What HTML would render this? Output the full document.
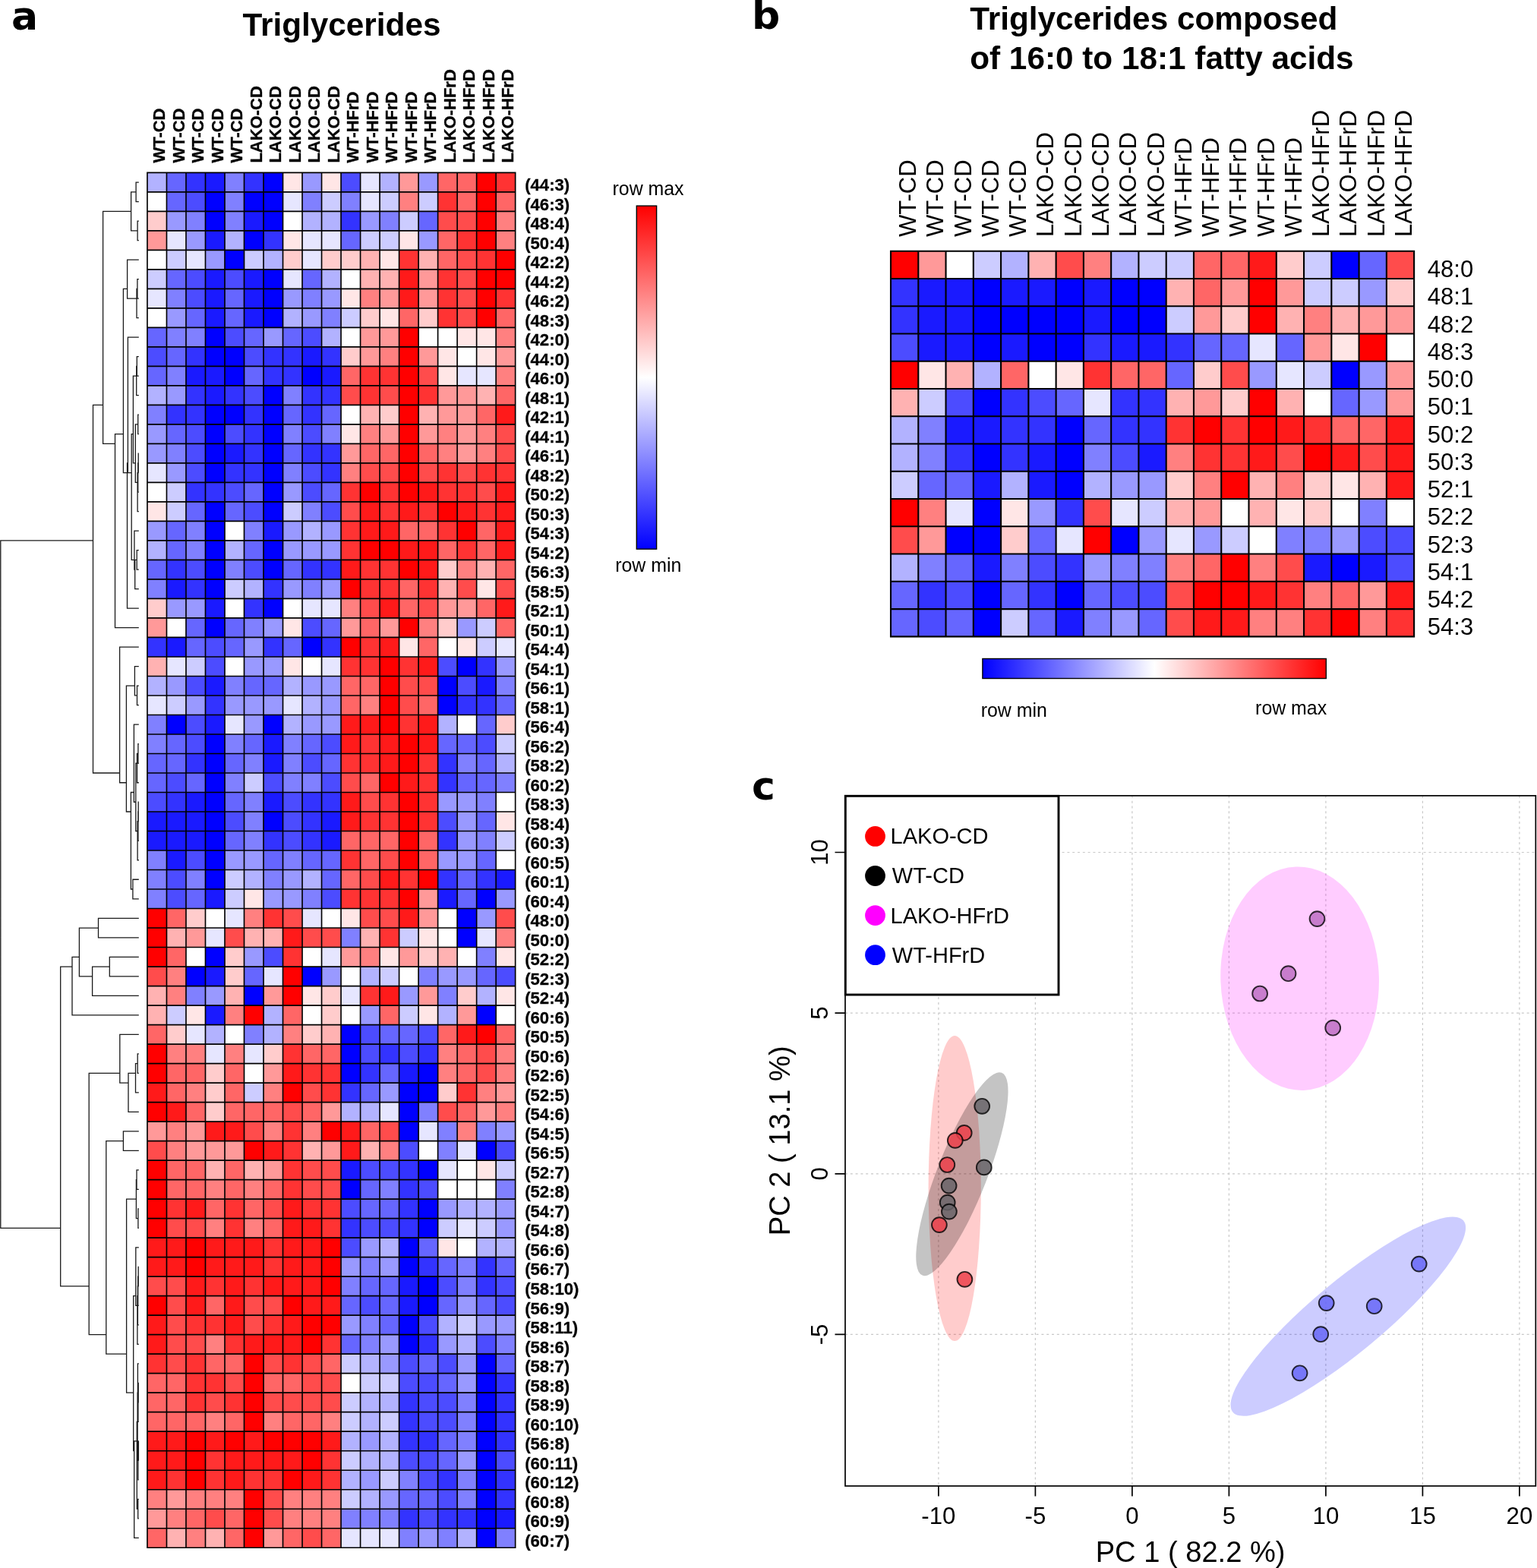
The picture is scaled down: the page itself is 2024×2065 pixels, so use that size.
<!DOCTYPE html>
<html lang="en"><head><meta charset="utf-8"><title>Triglycerides heatmaps and PCA</title>
<style>
html,body{margin:0;padding:0;background:#fff}
svg{display:block}
text{font-family:"Liberation Sans",Arial,Helvetica,sans-serif;fill:#000}
.pl{font-family:"DejaVu Sans","Liberation Sans",sans-serif;font-weight:bold;font-size:52px}
.b{font-weight:bold}
.ti{font-weight:bold;font-size:42.3px}
.ac{font-weight:bold;font-size:22px;stroke:#000;stroke-width:.35px}
.ar{font-weight:bold;font-size:22.1px;stroke:#000;stroke-width:.3px}
.lg{font-size:24.9px}
.bc{font-size:31px}
.br{font-size:31px}
.ct{font-size:31.2px}
.cl{font-size:38.1px}
.cg{font-size:29px}
.gr{stroke:#000;fill:none}
.dn{stroke:#1a1a1a;stroke-width:1.3;fill:none;stroke-linecap:butt;stroke-linejoin:miter}
.gd{stroke:#c8c8c8;stroke-width:1.2;stroke-dasharray:3 3.8;fill:none}
</style></head><body>
<svg width="2024" height="2065" viewBox="0 0 2024 2065">
<defs>
<linearGradient id="gv" x1="0" y1="0" x2="0" y2="1"><stop offset="0" stop-color="#f00"/><stop offset="0.5" stop-color="#fff"/><stop offset="1" stop-color="#00f"/></linearGradient>
<linearGradient id="gh" x1="0" y1="0" x2="1" y2="0"><stop offset="0" stop-color="#00f"/><stop offset="0.5" stop-color="#fff"/><stop offset="1" stop-color="#f00"/></linearGradient>
</defs>
<rect width="2024" height="2065" fill="#fff"/>
<text class="pl" x="15" y="38.5">a</text>
<text class="pl" x="990" y="38.2">b</text>
<text class="pl" x="990" y="1053.1">c</text>
<text class="ti" x="319.5" y="47.3">Triglycerides</text>
<text class="ti" x="1277.2" y="38.5">Triglycerides composed</text>
<text class="ti" x="1277.2" y="91.4">of 16:0 to 18:1 fatty acids</text>
<g id="heat-a" shape-rendering="crispEdges">
<rect x="193.95" y="227.3" width="25.51" height="25.51" fill="#b2b2ff"/>
<rect x="219.46" y="227.3" width="25.51" height="25.51" fill="#6666ff"/>
<rect x="244.97" y="227.3" width="25.51" height="25.51" fill="#3333ff"/>
<rect x="270.48" y="227.3" width="25.51" height="25.51" fill="#1a1aff"/>
<rect x="295.99" y="227.3" width="25.51" height="25.51" fill="#8080ff"/>
<rect x="321.5" y="227.3" width="25.51" height="25.51" fill="#3333ff"/>
<rect x="347.01" y="227.3" width="25.51" height="25.51" fill="#0000ff"/>
<rect x="372.52" y="227.3" width="25.51" height="25.51" fill="#ffe6e6"/>
<rect x="398.03" y="227.3" width="25.51" height="25.51" fill="#9999ff"/>
<rect x="423.54" y="227.3" width="25.51" height="25.51" fill="#ffe6e6"/>
<rect x="449.05" y="227.3" width="25.51" height="25.51" fill="#4c4cff"/>
<rect x="474.56" y="227.3" width="25.51" height="25.51" fill="#e6e6ff"/>
<rect x="500.07" y="227.3" width="25.51" height="25.51" fill="#b2b2ff"/>
<rect x="525.58" y="227.3" width="25.51" height="25.51" fill="#ff9999"/>
<rect x="551.09" y="227.3" width="25.51" height="25.51" fill="#9999ff"/>
<rect x="576.6" y="227.3" width="51.02" height="25.51" fill="#ff6666"/>
<rect x="627.62" y="227.3" width="25.51" height="25.51" fill="#ff0000"/>
<rect x="653.13" y="227.3" width="25.51" height="25.51" fill="#ff3333"/>
<rect x="193.95" y="252.81" width="25.51" height="25.51" fill="#ffffff"/>
<rect x="219.46" y="252.81" width="25.51" height="25.51" fill="#6666ff"/>
<rect x="244.97" y="252.81" width="25.51" height="25.51" fill="#4c4cff"/>
<rect x="270.48" y="252.81" width="25.51" height="25.51" fill="#0000ff"/>
<rect x="295.99" y="252.81" width="25.51" height="25.51" fill="#8080ff"/>
<rect x="321.5" y="252.81" width="51.02" height="25.51" fill="#0000ff"/>
<rect x="372.52" y="252.81" width="25.51" height="25.51" fill="#e6e6ff"/>
<rect x="398.03" y="252.81" width="25.51" height="25.51" fill="#8080ff"/>
<rect x="423.54" y="252.81" width="25.51" height="25.51" fill="#ccccff"/>
<rect x="449.05" y="252.81" width="25.51" height="25.51" fill="#8080ff"/>
<rect x="474.56" y="252.81" width="25.51" height="25.51" fill="#e6e6ff"/>
<rect x="500.07" y="252.81" width="25.51" height="25.51" fill="#ccccff"/>
<rect x="525.58" y="252.81" width="25.51" height="25.51" fill="#ff8080"/>
<rect x="551.09" y="252.81" width="25.51" height="25.51" fill="#ccccff"/>
<rect x="576.6" y="252.81" width="25.51" height="25.51" fill="#ff3333"/>
<rect x="602.11" y="252.81" width="25.51" height="25.51" fill="#ff6666"/>
<rect x="627.62" y="252.81" width="25.51" height="25.51" fill="#ff0000"/>
<rect x="653.13" y="252.81" width="25.51" height="25.51" fill="#ff6666"/>
<rect x="193.95" y="278.31" width="25.51" height="25.51" fill="#ffcccc"/>
<rect x="219.46" y="278.31" width="25.51" height="25.51" fill="#9999ff"/>
<rect x="244.97" y="278.31" width="25.51" height="25.51" fill="#8080ff"/>
<rect x="270.48" y="278.31" width="25.51" height="25.51" fill="#0000ff"/>
<rect x="295.99" y="278.31" width="25.51" height="25.51" fill="#8080ff"/>
<rect x="321.5" y="278.31" width="25.51" height="25.51" fill="#1a1aff"/>
<rect x="347.01" y="278.31" width="25.51" height="25.51" fill="#0000ff"/>
<rect x="372.52" y="278.31" width="25.51" height="25.51" fill="#ffffff"/>
<rect x="398.03" y="278.31" width="51.02" height="25.51" fill="#b2b2ff"/>
<rect x="449.05" y="278.31" width="25.51" height="25.51" fill="#3333ff"/>
<rect x="474.56" y="278.31" width="25.51" height="25.51" fill="#9999ff"/>
<rect x="500.07" y="278.31" width="25.51" height="25.51" fill="#8080ff"/>
<rect x="525.58" y="278.31" width="25.51" height="25.51" fill="#ccccff"/>
<rect x="551.09" y="278.31" width="25.51" height="25.51" fill="#6666ff"/>
<rect x="576.6" y="278.31" width="51.02" height="25.51" fill="#ff4c4c"/>
<rect x="627.62" y="278.31" width="25.51" height="25.51" fill="#ff0000"/>
<rect x="653.13" y="278.31" width="25.51" height="25.51" fill="#ff8080"/>
<rect x="193.95" y="303.82" width="25.51" height="25.51" fill="#ff9999"/>
<rect x="219.46" y="303.82" width="25.51" height="25.51" fill="#e6e6ff"/>
<rect x="244.97" y="303.82" width="25.51" height="25.51" fill="#9999ff"/>
<rect x="270.48" y="303.82" width="25.51" height="25.51" fill="#1a1aff"/>
<rect x="295.99" y="303.82" width="25.51" height="25.51" fill="#b2b2ff"/>
<rect x="321.5" y="303.82" width="25.51" height="25.51" fill="#0000ff"/>
<rect x="347.01" y="303.82" width="25.51" height="25.51" fill="#3333ff"/>
<rect x="372.52" y="303.82" width="25.51" height="25.51" fill="#ffe6e6"/>
<rect x="398.03" y="303.82" width="51.02" height="25.51" fill="#e6e6ff"/>
<rect x="449.05" y="303.82" width="25.51" height="25.51" fill="#6666ff"/>
<rect x="474.56" y="303.82" width="51.02" height="25.51" fill="#ccccff"/>
<rect x="525.58" y="303.82" width="25.51" height="25.51" fill="#ffe6e6"/>
<rect x="551.09" y="303.82" width="25.51" height="25.51" fill="#9999ff"/>
<rect x="576.6" y="303.82" width="25.51" height="25.51" fill="#ff6666"/>
<rect x="602.11" y="303.82" width="25.51" height="25.51" fill="#ff3333"/>
<rect x="627.62" y="303.82" width="25.51" height="25.51" fill="#ff0000"/>
<rect x="653.13" y="303.82" width="25.51" height="25.51" fill="#ff8080"/>
<rect x="193.95" y="329.32" width="25.51" height="25.51" fill="#ffffff"/>
<rect x="219.46" y="329.32" width="25.51" height="25.51" fill="#ccccff"/>
<rect x="244.97" y="329.32" width="25.51" height="25.51" fill="#e6e6ff"/>
<rect x="270.48" y="329.32" width="25.51" height="25.51" fill="#9999ff"/>
<rect x="295.99" y="329.32" width="25.51" height="25.51" fill="#0000ff"/>
<rect x="321.5" y="329.32" width="25.51" height="25.51" fill="#ccccff"/>
<rect x="347.01" y="329.32" width="25.51" height="25.51" fill="#b2b2ff"/>
<rect x="372.52" y="329.32" width="25.51" height="25.51" fill="#ffcccc"/>
<rect x="398.03" y="329.32" width="25.51" height="25.51" fill="#e6e6ff"/>
<rect x="423.54" y="329.32" width="51.02" height="25.51" fill="#ffcccc"/>
<rect x="474.56" y="329.32" width="25.51" height="25.51" fill="#ffb2b2"/>
<rect x="500.07" y="329.32" width="25.51" height="25.51" fill="#ffe6e6"/>
<rect x="525.58" y="329.32" width="25.51" height="25.51" fill="#ff3333"/>
<rect x="551.09" y="329.32" width="25.51" height="25.51" fill="#ffb2b2"/>
<rect x="576.6" y="329.32" width="25.51" height="25.51" fill="#ff6666"/>
<rect x="602.11" y="329.32" width="25.51" height="25.51" fill="#ff4c4c"/>
<rect x="627.62" y="329.32" width="25.51" height="25.51" fill="#ff3333"/>
<rect x="653.13" y="329.32" width="25.51" height="25.51" fill="#ff0000"/>
<rect x="193.95" y="354.83" width="25.51" height="25.51" fill="#ccccff"/>
<rect x="219.46" y="354.83" width="25.51" height="25.51" fill="#6666ff"/>
<rect x="244.97" y="354.83" width="25.51" height="25.51" fill="#4c4cff"/>
<rect x="270.48" y="354.83" width="25.51" height="25.51" fill="#1a1aff"/>
<rect x="295.99" y="354.83" width="25.51" height="25.51" fill="#4c4cff"/>
<rect x="321.5" y="354.83" width="25.51" height="25.51" fill="#1a1aff"/>
<rect x="347.01" y="354.83" width="25.51" height="25.51" fill="#0000ff"/>
<rect x="372.52" y="354.83" width="25.51" height="25.51" fill="#e6e6ff"/>
<rect x="398.03" y="354.83" width="25.51" height="25.51" fill="#6666ff"/>
<rect x="423.54" y="354.83" width="25.51" height="25.51" fill="#b2b2ff"/>
<rect x="449.05" y="354.83" width="25.51" height="25.51" fill="#ffffff"/>
<rect x="474.56" y="354.83" width="51.02" height="25.51" fill="#ffb2b2"/>
<rect x="525.58" y="354.83" width="25.51" height="25.51" fill="#ff1a1a"/>
<rect x="551.09" y="354.83" width="25.51" height="25.51" fill="#ff9999"/>
<rect x="576.6" y="354.83" width="25.51" height="25.51" fill="#ff3333"/>
<rect x="602.11" y="354.83" width="25.51" height="25.51" fill="#ff4c4c"/>
<rect x="627.62" y="354.83" width="51.02" height="25.51" fill="#ff0000"/>
<rect x="193.95" y="380.34" width="25.51" height="25.51" fill="#e6e6ff"/>
<rect x="219.46" y="380.34" width="25.51" height="25.51" fill="#8080ff"/>
<rect x="244.97" y="380.34" width="25.51" height="25.51" fill="#4c4cff"/>
<rect x="270.48" y="380.34" width="25.51" height="25.51" fill="#1a1aff"/>
<rect x="295.99" y="380.34" width="25.51" height="25.51" fill="#6666ff"/>
<rect x="321.5" y="380.34" width="25.51" height="25.51" fill="#1a1aff"/>
<rect x="347.01" y="380.34" width="25.51" height="25.51" fill="#0000ff"/>
<rect x="372.52" y="380.34" width="25.51" height="25.51" fill="#9999ff"/>
<rect x="398.03" y="380.34" width="25.51" height="25.51" fill="#8080ff"/>
<rect x="423.54" y="380.34" width="25.51" height="25.51" fill="#9999ff"/>
<rect x="449.05" y="380.34" width="25.51" height="25.51" fill="#ffe6e6"/>
<rect x="474.56" y="380.34" width="25.51" height="25.51" fill="#ff8080"/>
<rect x="500.07" y="380.34" width="25.51" height="25.51" fill="#ff9999"/>
<rect x="525.58" y="380.34" width="25.51" height="25.51" fill="#ff1a1a"/>
<rect x="551.09" y="380.34" width="25.51" height="25.51" fill="#ff9999"/>
<rect x="576.6" y="380.34" width="25.51" height="25.51" fill="#ff3333"/>
<rect x="602.11" y="380.34" width="25.51" height="25.51" fill="#ff4c4c"/>
<rect x="627.62" y="380.34" width="25.51" height="25.51" fill="#ff0000"/>
<rect x="653.13" y="380.34" width="25.51" height="25.51" fill="#ff3333"/>
<rect x="193.95" y="405.84" width="25.51" height="25.51" fill="#ffffff"/>
<rect x="219.46" y="405.84" width="25.51" height="25.51" fill="#9999ff"/>
<rect x="244.97" y="405.84" width="25.51" height="25.51" fill="#6666ff"/>
<rect x="270.48" y="405.84" width="25.51" height="25.51" fill="#1a1aff"/>
<rect x="295.99" y="405.84" width="25.51" height="25.51" fill="#6666ff"/>
<rect x="321.5" y="405.84" width="25.51" height="25.51" fill="#1a1aff"/>
<rect x="347.01" y="405.84" width="25.51" height="25.51" fill="#0000ff"/>
<rect x="372.52" y="405.84" width="25.51" height="25.51" fill="#b2b2ff"/>
<rect x="398.03" y="405.84" width="25.51" height="25.51" fill="#9999ff"/>
<rect x="423.54" y="405.84" width="25.51" height="25.51" fill="#8080ff"/>
<rect x="449.05" y="405.84" width="25.51" height="25.51" fill="#ccccff"/>
<rect x="474.56" y="405.84" width="25.51" height="25.51" fill="#ffcccc"/>
<rect x="500.07" y="405.84" width="25.51" height="25.51" fill="#ffe6e6"/>
<rect x="525.58" y="405.84" width="25.51" height="25.51" fill="#ff6666"/>
<rect x="551.09" y="405.84" width="25.51" height="25.51" fill="#ffcccc"/>
<rect x="576.6" y="405.84" width="25.51" height="25.51" fill="#ff3333"/>
<rect x="602.11" y="405.84" width="25.51" height="25.51" fill="#ff4c4c"/>
<rect x="627.62" y="405.84" width="25.51" height="25.51" fill="#ff0000"/>
<rect x="653.13" y="405.84" width="25.51" height="25.51" fill="#ff6666"/>
<rect x="193.95" y="431.35" width="25.51" height="25.51" fill="#6666ff"/>
<rect x="219.46" y="431.35" width="51.02" height="25.51" fill="#8080ff"/>
<rect x="270.48" y="431.35" width="25.51" height="25.51" fill="#0000ff"/>
<rect x="295.99" y="431.35" width="25.51" height="25.51" fill="#4c4cff"/>
<rect x="321.5" y="431.35" width="25.51" height="25.51" fill="#6666ff"/>
<rect x="347.01" y="431.35" width="25.51" height="25.51" fill="#9999ff"/>
<rect x="372.52" y="431.35" width="25.51" height="25.51" fill="#6666ff"/>
<rect x="398.03" y="431.35" width="25.51" height="25.51" fill="#4c4cff"/>
<rect x="423.54" y="431.35" width="25.51" height="25.51" fill="#b2b2ff"/>
<rect x="449.05" y="431.35" width="25.51" height="25.51" fill="#ffffff"/>
<rect x="474.56" y="431.35" width="51.02" height="25.51" fill="#ff9999"/>
<rect x="525.58" y="431.35" width="25.51" height="25.51" fill="#ff0000"/>
<rect x="551.09" y="431.35" width="51.02" height="25.51" fill="#ffffff"/>
<rect x="602.11" y="431.35" width="51.02" height="25.51" fill="#ffe6e6"/>
<rect x="653.13" y="431.35" width="25.51" height="25.51" fill="#ff8080"/>
<rect x="193.95" y="456.85" width="25.51" height="25.51" fill="#4c4cff"/>
<rect x="219.46" y="456.85" width="25.51" height="25.51" fill="#6666ff"/>
<rect x="244.97" y="456.85" width="25.51" height="25.51" fill="#3333ff"/>
<rect x="270.48" y="456.85" width="51.02" height="25.51" fill="#0000ff"/>
<rect x="321.5" y="456.85" width="25.51" height="25.51" fill="#4c4cff"/>
<rect x="347.01" y="456.85" width="51.02" height="25.51" fill="#3333ff"/>
<rect x="398.03" y="456.85" width="25.51" height="25.51" fill="#1a1aff"/>
<rect x="423.54" y="456.85" width="25.51" height="25.51" fill="#3333ff"/>
<rect x="449.05" y="456.85" width="25.51" height="25.51" fill="#ffcccc"/>
<rect x="474.56" y="456.85" width="25.51" height="25.51" fill="#ff9999"/>
<rect x="500.07" y="456.85" width="25.51" height="25.51" fill="#ff8080"/>
<rect x="525.58" y="456.85" width="25.51" height="25.51" fill="#ff0000"/>
<rect x="551.09" y="456.85" width="25.51" height="25.51" fill="#ff9999"/>
<rect x="576.6" y="456.85" width="25.51" height="25.51" fill="#ffe6e6"/>
<rect x="602.11" y="456.85" width="25.51" height="25.51" fill="#ffffff"/>
<rect x="627.62" y="456.85" width="25.51" height="25.51" fill="#ffe6e6"/>
<rect x="653.13" y="456.85" width="25.51" height="25.51" fill="#ff9999"/>
<rect x="193.95" y="482.36" width="25.51" height="25.51" fill="#6666ff"/>
<rect x="219.46" y="482.36" width="25.51" height="25.51" fill="#8080ff"/>
<rect x="244.97" y="482.36" width="51.02" height="25.51" fill="#1a1aff"/>
<rect x="295.99" y="482.36" width="25.51" height="25.51" fill="#0000ff"/>
<rect x="321.5" y="482.36" width="25.51" height="25.51" fill="#6666ff"/>
<rect x="347.01" y="482.36" width="51.02" height="25.51" fill="#3333ff"/>
<rect x="398.03" y="482.36" width="25.51" height="25.51" fill="#0000ff"/>
<rect x="423.54" y="482.36" width="25.51" height="25.51" fill="#1a1aff"/>
<rect x="449.05" y="482.36" width="25.51" height="25.51" fill="#ff6666"/>
<rect x="474.56" y="482.36" width="51.02" height="25.51" fill="#ff3333"/>
<rect x="525.58" y="482.36" width="25.51" height="25.51" fill="#ff0000"/>
<rect x="551.09" y="482.36" width="25.51" height="25.51" fill="#ff4c4c"/>
<rect x="576.6" y="482.36" width="25.51" height="25.51" fill="#ffe6e6"/>
<rect x="602.11" y="482.36" width="51.02" height="25.51" fill="#e6e6ff"/>
<rect x="653.13" y="482.36" width="25.51" height="25.51" fill="#ff8080"/>
<rect x="193.95" y="507.87" width="25.51" height="25.51" fill="#b2b2ff"/>
<rect x="219.46" y="507.87" width="25.51" height="25.51" fill="#9999ff"/>
<rect x="244.97" y="507.87" width="25.51" height="25.51" fill="#3333ff"/>
<rect x="270.48" y="507.87" width="25.51" height="25.51" fill="#1a1aff"/>
<rect x="295.99" y="507.87" width="25.51" height="25.51" fill="#3333ff"/>
<rect x="321.5" y="507.87" width="25.51" height="25.51" fill="#4c4cff"/>
<rect x="347.01" y="507.87" width="25.51" height="25.51" fill="#0000ff"/>
<rect x="372.52" y="507.87" width="25.51" height="25.51" fill="#8080ff"/>
<rect x="398.03" y="507.87" width="51.02" height="25.51" fill="#3333ff"/>
<rect x="449.05" y="507.87" width="25.51" height="25.51" fill="#ff4c4c"/>
<rect x="474.56" y="507.87" width="25.51" height="25.51" fill="#ff3333"/>
<rect x="500.07" y="507.87" width="25.51" height="25.51" fill="#ff4c4c"/>
<rect x="525.58" y="507.87" width="25.51" height="25.51" fill="#ff0000"/>
<rect x="551.09" y="507.87" width="25.51" height="25.51" fill="#ff3333"/>
<rect x="576.6" y="507.87" width="51.02" height="25.51" fill="#ff9999"/>
<rect x="627.62" y="507.87" width="25.51" height="25.51" fill="#ffb2b2"/>
<rect x="653.13" y="507.87" width="25.51" height="25.51" fill="#ff6666"/>
<rect x="193.95" y="533.37" width="25.51" height="25.51" fill="#8080ff"/>
<rect x="219.46" y="533.37" width="51.02" height="25.51" fill="#3333ff"/>
<rect x="270.48" y="533.37" width="51.02" height="25.51" fill="#0000ff"/>
<rect x="321.5" y="533.37" width="25.51" height="25.51" fill="#3333ff"/>
<rect x="347.01" y="533.37" width="25.51" height="25.51" fill="#0000ff"/>
<rect x="372.52" y="533.37" width="25.51" height="25.51" fill="#6666ff"/>
<rect x="398.03" y="533.37" width="25.51" height="25.51" fill="#3333ff"/>
<rect x="423.54" y="533.37" width="25.51" height="25.51" fill="#6666ff"/>
<rect x="449.05" y="533.37" width="25.51" height="25.51" fill="#ffffff"/>
<rect x="474.56" y="533.37" width="25.51" height="25.51" fill="#ffb2b2"/>
<rect x="500.07" y="533.37" width="25.51" height="25.51" fill="#ffcccc"/>
<rect x="525.58" y="533.37" width="25.51" height="25.51" fill="#ff0000"/>
<rect x="551.09" y="533.37" width="25.51" height="25.51" fill="#ffb2b2"/>
<rect x="576.6" y="533.37" width="51.02" height="25.51" fill="#ff9999"/>
<rect x="627.62" y="533.37" width="25.51" height="25.51" fill="#ff6666"/>
<rect x="653.13" y="533.37" width="25.51" height="25.51" fill="#ff1a1a"/>
<rect x="193.95" y="558.88" width="25.51" height="25.51" fill="#9999ff"/>
<rect x="219.46" y="558.88" width="25.51" height="25.51" fill="#6666ff"/>
<rect x="244.97" y="558.88" width="25.51" height="25.51" fill="#4c4cff"/>
<rect x="270.48" y="558.88" width="25.51" height="25.51" fill="#0000ff"/>
<rect x="295.99" y="558.88" width="25.51" height="25.51" fill="#4c4cff"/>
<rect x="321.5" y="558.88" width="25.51" height="25.51" fill="#3333ff"/>
<rect x="347.01" y="558.88" width="25.51" height="25.51" fill="#0000ff"/>
<rect x="372.52" y="558.88" width="25.51" height="25.51" fill="#8080ff"/>
<rect x="398.03" y="558.88" width="25.51" height="25.51" fill="#4c4cff"/>
<rect x="423.54" y="558.88" width="25.51" height="25.51" fill="#8080ff"/>
<rect x="449.05" y="558.88" width="25.51" height="25.51" fill="#ffe6e6"/>
<rect x="474.56" y="558.88" width="25.51" height="25.51" fill="#ff8080"/>
<rect x="500.07" y="558.88" width="25.51" height="25.51" fill="#ff9999"/>
<rect x="525.58" y="558.88" width="25.51" height="25.51" fill="#ff0000"/>
<rect x="551.09" y="558.88" width="25.51" height="25.51" fill="#ff9999"/>
<rect x="576.6" y="558.88" width="25.51" height="25.51" fill="#ff8080"/>
<rect x="602.11" y="558.88" width="25.51" height="25.51" fill="#ff9999"/>
<rect x="627.62" y="558.88" width="25.51" height="25.51" fill="#ff8080"/>
<rect x="653.13" y="558.88" width="25.51" height="25.51" fill="#ff4c4c"/>
<rect x="193.95" y="584.38" width="25.51" height="25.51" fill="#9999ff"/>
<rect x="219.46" y="584.38" width="25.51" height="25.51" fill="#8080ff"/>
<rect x="244.97" y="584.38" width="25.51" height="25.51" fill="#4c4cff"/>
<rect x="270.48" y="584.38" width="25.51" height="25.51" fill="#0000ff"/>
<rect x="295.99" y="584.38" width="25.51" height="25.51" fill="#1a1aff"/>
<rect x="321.5" y="584.38" width="25.51" height="25.51" fill="#3333ff"/>
<rect x="347.01" y="584.38" width="25.51" height="25.51" fill="#0000ff"/>
<rect x="372.52" y="584.38" width="25.51" height="25.51" fill="#6666ff"/>
<rect x="398.03" y="584.38" width="51.02" height="25.51" fill="#3333ff"/>
<rect x="449.05" y="584.38" width="25.51" height="25.51" fill="#ff9999"/>
<rect x="474.56" y="584.38" width="51.02" height="25.51" fill="#ff6666"/>
<rect x="525.58" y="584.38" width="25.51" height="25.51" fill="#ff0000"/>
<rect x="551.09" y="584.38" width="25.51" height="25.51" fill="#ff6666"/>
<rect x="576.6" y="584.38" width="25.51" height="25.51" fill="#ff8080"/>
<rect x="602.11" y="584.38" width="25.51" height="25.51" fill="#ff9999"/>
<rect x="627.62" y="584.38" width="25.51" height="25.51" fill="#ff8080"/>
<rect x="653.13" y="584.38" width="25.51" height="25.51" fill="#ff4c4c"/>
<rect x="193.95" y="609.89" width="25.51" height="25.51" fill="#e6e6ff"/>
<rect x="219.46" y="609.89" width="25.51" height="25.51" fill="#9999ff"/>
<rect x="244.97" y="609.89" width="25.51" height="25.51" fill="#4c4cff"/>
<rect x="270.48" y="609.89" width="25.51" height="25.51" fill="#0000ff"/>
<rect x="295.99" y="609.89" width="51.02" height="25.51" fill="#3333ff"/>
<rect x="347.01" y="609.89" width="25.51" height="25.51" fill="#0000ff"/>
<rect x="372.52" y="609.89" width="25.51" height="25.51" fill="#8080ff"/>
<rect x="398.03" y="609.89" width="25.51" height="25.51" fill="#4c4cff"/>
<rect x="423.54" y="609.89" width="25.51" height="25.51" fill="#3333ff"/>
<rect x="449.05" y="609.89" width="25.51" height="25.51" fill="#ff8080"/>
<rect x="474.56" y="609.89" width="51.02" height="25.51" fill="#ff4c4c"/>
<rect x="525.58" y="609.89" width="25.51" height="25.51" fill="#ff0000"/>
<rect x="551.09" y="609.89" width="25.51" height="25.51" fill="#ff4c4c"/>
<rect x="576.6" y="609.89" width="25.51" height="25.51" fill="#ff3333"/>
<rect x="602.11" y="609.89" width="25.51" height="25.51" fill="#ff4c4c"/>
<rect x="627.62" y="609.89" width="51.02" height="25.51" fill="#ff3333"/>
<rect x="193.95" y="635.4" width="25.51" height="25.51" fill="#ffffff"/>
<rect x="219.46" y="635.4" width="25.51" height="25.51" fill="#ccccff"/>
<rect x="244.97" y="635.4" width="51.02" height="25.51" fill="#3333ff"/>
<rect x="295.99" y="635.4" width="25.51" height="25.51" fill="#4c4cff"/>
<rect x="321.5" y="635.4" width="25.51" height="25.51" fill="#6666ff"/>
<rect x="347.01" y="635.4" width="25.51" height="25.51" fill="#0000ff"/>
<rect x="372.52" y="635.4" width="25.51" height="25.51" fill="#9999ff"/>
<rect x="398.03" y="635.4" width="25.51" height="25.51" fill="#4c4cff"/>
<rect x="423.54" y="635.4" width="25.51" height="25.51" fill="#6666ff"/>
<rect x="449.05" y="635.4" width="25.51" height="25.51" fill="#ff3333"/>
<rect x="474.56" y="635.4" width="25.51" height="25.51" fill="#ff0000"/>
<rect x="500.07" y="635.4" width="25.51" height="25.51" fill="#ff3333"/>
<rect x="525.58" y="635.4" width="25.51" height="25.51" fill="#ff0000"/>
<rect x="551.09" y="635.4" width="25.51" height="25.51" fill="#ff1a1a"/>
<rect x="576.6" y="635.4" width="51.02" height="25.51" fill="#ff3333"/>
<rect x="627.62" y="635.4" width="25.51" height="25.51" fill="#ff4c4c"/>
<rect x="653.13" y="635.4" width="25.51" height="25.51" fill="#ff1a1a"/>
<rect x="193.95" y="660.9" width="25.51" height="25.51" fill="#ffe6e6"/>
<rect x="219.46" y="660.9" width="25.51" height="25.51" fill="#ccccff"/>
<rect x="244.97" y="660.9" width="25.51" height="25.51" fill="#6666ff"/>
<rect x="270.48" y="660.9" width="25.51" height="25.51" fill="#0000ff"/>
<rect x="295.99" y="660.9" width="25.51" height="25.51" fill="#6666ff"/>
<rect x="321.5" y="660.9" width="25.51" height="25.51" fill="#4c4cff"/>
<rect x="347.01" y="660.9" width="25.51" height="25.51" fill="#0000ff"/>
<rect x="372.52" y="660.9" width="25.51" height="25.51" fill="#ccccff"/>
<rect x="398.03" y="660.9" width="25.51" height="25.51" fill="#8080ff"/>
<rect x="423.54" y="660.9" width="25.51" height="25.51" fill="#4c4cff"/>
<rect x="449.05" y="660.9" width="25.51" height="25.51" fill="#ff4c4c"/>
<rect x="474.56" y="660.9" width="25.51" height="25.51" fill="#ff1a1a"/>
<rect x="500.07" y="660.9" width="25.51" height="25.51" fill="#ff3333"/>
<rect x="525.58" y="660.9" width="25.51" height="25.51" fill="#ff1a1a"/>
<rect x="551.09" y="660.9" width="25.51" height="25.51" fill="#ff3333"/>
<rect x="576.6" y="660.9" width="25.51" height="25.51" fill="#ff0000"/>
<rect x="602.11" y="660.9" width="25.51" height="25.51" fill="#ff1a1a"/>
<rect x="627.62" y="660.9" width="25.51" height="25.51" fill="#ff3333"/>
<rect x="653.13" y="660.9" width="25.51" height="25.51" fill="#ff1a1a"/>
<rect x="193.95" y="686.41" width="25.51" height="25.51" fill="#9999ff"/>
<rect x="219.46" y="686.41" width="25.51" height="25.51" fill="#6666ff"/>
<rect x="244.97" y="686.41" width="25.51" height="25.51" fill="#8080ff"/>
<rect x="270.48" y="686.41" width="25.51" height="25.51" fill="#0000ff"/>
<rect x="295.99" y="686.41" width="25.51" height="25.51" fill="#ffffff"/>
<rect x="321.5" y="686.41" width="25.51" height="25.51" fill="#8080ff"/>
<rect x="347.01" y="686.41" width="25.51" height="25.51" fill="#1a1aff"/>
<rect x="372.52" y="686.41" width="25.51" height="25.51" fill="#9999ff"/>
<rect x="398.03" y="686.41" width="25.51" height="25.51" fill="#b2b2ff"/>
<rect x="423.54" y="686.41" width="25.51" height="25.51" fill="#9999ff"/>
<rect x="449.05" y="686.41" width="25.51" height="25.51" fill="#ff3333"/>
<rect x="474.56" y="686.41" width="51.02" height="25.51" fill="#ff1a1a"/>
<rect x="525.58" y="686.41" width="51.02" height="25.51" fill="#ff6666"/>
<rect x="576.6" y="686.41" width="25.51" height="25.51" fill="#ff3333"/>
<rect x="602.11" y="686.41" width="25.51" height="25.51" fill="#ff0000"/>
<rect x="627.62" y="686.41" width="25.51" height="25.51" fill="#ff6666"/>
<rect x="653.13" y="686.41" width="25.51" height="25.51" fill="#ff1a1a"/>
<rect x="193.95" y="711.91" width="25.51" height="25.51" fill="#b2b2ff"/>
<rect x="219.46" y="711.91" width="25.51" height="25.51" fill="#6666ff"/>
<rect x="244.97" y="711.91" width="25.51" height="25.51" fill="#8080ff"/>
<rect x="270.48" y="711.91" width="25.51" height="25.51" fill="#0000ff"/>
<rect x="295.99" y="711.91" width="25.51" height="25.51" fill="#b2b2ff"/>
<rect x="321.5" y="711.91" width="25.51" height="25.51" fill="#6666ff"/>
<rect x="347.01" y="711.91" width="25.51" height="25.51" fill="#0000ff"/>
<rect x="372.52" y="711.91" width="76.53" height="25.51" fill="#9999ff"/>
<rect x="449.05" y="711.91" width="25.51" height="25.51" fill="#ff3333"/>
<rect x="474.56" y="711.91" width="51.02" height="25.51" fill="#ff0000"/>
<rect x="525.58" y="711.91" width="51.02" height="25.51" fill="#ff1a1a"/>
<rect x="576.6" y="711.91" width="25.51" height="25.51" fill="#ff6666"/>
<rect x="602.11" y="711.91" width="25.51" height="25.51" fill="#ff3333"/>
<rect x="627.62" y="711.91" width="25.51" height="25.51" fill="#ff6666"/>
<rect x="653.13" y="711.91" width="25.51" height="25.51" fill="#ff1a1a"/>
<rect x="193.95" y="737.42" width="25.51" height="25.51" fill="#6666ff"/>
<rect x="219.46" y="737.42" width="25.51" height="25.51" fill="#3333ff"/>
<rect x="244.97" y="737.42" width="25.51" height="25.51" fill="#4c4cff"/>
<rect x="270.48" y="737.42" width="25.51" height="25.51" fill="#0000ff"/>
<rect x="295.99" y="737.42" width="25.51" height="25.51" fill="#8080ff"/>
<rect x="321.5" y="737.42" width="25.51" height="25.51" fill="#4c4cff"/>
<rect x="347.01" y="737.42" width="25.51" height="25.51" fill="#0000ff"/>
<rect x="372.52" y="737.42" width="25.51" height="25.51" fill="#6666ff"/>
<rect x="398.03" y="737.42" width="51.02" height="25.51" fill="#3333ff"/>
<rect x="449.05" y="737.42" width="25.51" height="25.51" fill="#ff1a1a"/>
<rect x="474.56" y="737.42" width="51.02" height="25.51" fill="#ff3333"/>
<rect x="525.58" y="737.42" width="25.51" height="25.51" fill="#ff0000"/>
<rect x="551.09" y="737.42" width="25.51" height="25.51" fill="#ff1a1a"/>
<rect x="576.6" y="737.42" width="25.51" height="25.51" fill="#ffcccc"/>
<rect x="602.11" y="737.42" width="25.51" height="25.51" fill="#ff8080"/>
<rect x="627.62" y="737.42" width="25.51" height="25.51" fill="#ffb2b2"/>
<rect x="653.13" y="737.42" width="25.51" height="25.51" fill="#ff6666"/>
<rect x="193.95" y="762.93" width="25.51" height="25.51" fill="#8080ff"/>
<rect x="219.46" y="762.93" width="25.51" height="25.51" fill="#1a1aff"/>
<rect x="244.97" y="762.93" width="25.51" height="25.51" fill="#3333ff"/>
<rect x="270.48" y="762.93" width="25.51" height="25.51" fill="#0000ff"/>
<rect x="295.99" y="762.93" width="25.51" height="25.51" fill="#ccccff"/>
<rect x="321.5" y="762.93" width="25.51" height="25.51" fill="#b2b2ff"/>
<rect x="347.01" y="762.93" width="25.51" height="25.51" fill="#3333ff"/>
<rect x="372.52" y="762.93" width="25.51" height="25.51" fill="#9999ff"/>
<rect x="398.03" y="762.93" width="25.51" height="25.51" fill="#8080ff"/>
<rect x="423.54" y="762.93" width="25.51" height="25.51" fill="#9999ff"/>
<rect x="449.05" y="762.93" width="25.51" height="25.51" fill="#ff0000"/>
<rect x="474.56" y="762.93" width="51.02" height="25.51" fill="#ff3333"/>
<rect x="525.58" y="762.93" width="25.51" height="25.51" fill="#ff6666"/>
<rect x="551.09" y="762.93" width="25.51" height="25.51" fill="#ff3333"/>
<rect x="576.6" y="762.93" width="25.51" height="25.51" fill="#ffb2b2"/>
<rect x="602.11" y="762.93" width="25.51" height="25.51" fill="#ff4c4c"/>
<rect x="627.62" y="762.93" width="25.51" height="25.51" fill="#ffe6e6"/>
<rect x="653.13" y="762.93" width="25.51" height="25.51" fill="#ff4c4c"/>
<rect x="193.95" y="788.43" width="25.51" height="25.51" fill="#ffcccc"/>
<rect x="219.46" y="788.43" width="51.02" height="25.51" fill="#9999ff"/>
<rect x="270.48" y="788.43" width="25.51" height="25.51" fill="#1a1aff"/>
<rect x="295.99" y="788.43" width="25.51" height="25.51" fill="#ffffff"/>
<rect x="321.5" y="788.43" width="25.51" height="25.51" fill="#3333ff"/>
<rect x="347.01" y="788.43" width="25.51" height="25.51" fill="#0000ff"/>
<rect x="372.52" y="788.43" width="25.51" height="25.51" fill="#ffffff"/>
<rect x="398.03" y="788.43" width="51.02" height="25.51" fill="#e6e6ff"/>
<rect x="449.05" y="788.43" width="25.51" height="25.51" fill="#ff8080"/>
<rect x="474.56" y="788.43" width="25.51" height="25.51" fill="#ff4c4c"/>
<rect x="500.07" y="788.43" width="25.51" height="25.51" fill="#ff1a1a"/>
<rect x="525.58" y="788.43" width="25.51" height="25.51" fill="#ff6666"/>
<rect x="551.09" y="788.43" width="25.51" height="25.51" fill="#ff4c4c"/>
<rect x="576.6" y="788.43" width="51.02" height="25.51" fill="#ff9999"/>
<rect x="627.62" y="788.43" width="25.51" height="25.51" fill="#ff6666"/>
<rect x="653.13" y="788.43" width="25.51" height="25.51" fill="#ff1a1a"/>
<rect x="193.95" y="813.94" width="25.51" height="25.51" fill="#ff9999"/>
<rect x="219.46" y="813.94" width="25.51" height="25.51" fill="#ffffff"/>
<rect x="244.97" y="813.94" width="25.51" height="25.51" fill="#6666ff"/>
<rect x="270.48" y="813.94" width="25.51" height="25.51" fill="#0000ff"/>
<rect x="295.99" y="813.94" width="25.51" height="25.51" fill="#6666ff"/>
<rect x="321.5" y="813.94" width="25.51" height="25.51" fill="#8080ff"/>
<rect x="347.01" y="813.94" width="25.51" height="25.51" fill="#9999ff"/>
<rect x="372.52" y="813.94" width="25.51" height="25.51" fill="#ffe6e6"/>
<rect x="398.03" y="813.94" width="25.51" height="25.51" fill="#4c4cff"/>
<rect x="423.54" y="813.94" width="25.51" height="25.51" fill="#6666ff"/>
<rect x="449.05" y="813.94" width="25.51" height="25.51" fill="#ff9999"/>
<rect x="474.56" y="813.94" width="25.51" height="25.51" fill="#ff6666"/>
<rect x="500.07" y="813.94" width="25.51" height="25.51" fill="#ff9999"/>
<rect x="525.58" y="813.94" width="25.51" height="25.51" fill="#ff0000"/>
<rect x="551.09" y="813.94" width="25.51" height="25.51" fill="#ff8080"/>
<rect x="576.6" y="813.94" width="25.51" height="25.51" fill="#ffcccc"/>
<rect x="602.11" y="813.94" width="25.51" height="25.51" fill="#9999ff"/>
<rect x="627.62" y="813.94" width="25.51" height="25.51" fill="#ccccff"/>
<rect x="653.13" y="813.94" width="25.51" height="25.51" fill="#ff6666"/>
<rect x="193.95" y="839.44" width="25.51" height="25.51" fill="#3333ff"/>
<rect x="219.46" y="839.44" width="25.51" height="25.51" fill="#1a1aff"/>
<rect x="244.97" y="839.44" width="25.51" height="25.51" fill="#6666ff"/>
<rect x="270.48" y="839.44" width="25.51" height="25.51" fill="#4c4cff"/>
<rect x="295.99" y="839.44" width="25.51" height="25.51" fill="#6666ff"/>
<rect x="321.5" y="839.44" width="25.51" height="25.51" fill="#9999ff"/>
<rect x="347.01" y="839.44" width="25.51" height="25.51" fill="#3333ff"/>
<rect x="372.52" y="839.44" width="25.51" height="25.51" fill="#6666ff"/>
<rect x="398.03" y="839.44" width="25.51" height="25.51" fill="#0000ff"/>
<rect x="423.54" y="839.44" width="25.51" height="25.51" fill="#3333ff"/>
<rect x="449.05" y="839.44" width="25.51" height="25.51" fill="#ff0000"/>
<rect x="474.56" y="839.44" width="25.51" height="25.51" fill="#ff3333"/>
<rect x="500.07" y="839.44" width="25.51" height="25.51" fill="#ff1a1a"/>
<rect x="525.58" y="839.44" width="25.51" height="25.51" fill="#ffe6e6"/>
<rect x="551.09" y="839.44" width="25.51" height="25.51" fill="#ff6666"/>
<rect x="576.6" y="839.44" width="25.51" height="25.51" fill="#ffffff"/>
<rect x="602.11" y="839.44" width="25.51" height="25.51" fill="#ffe6e6"/>
<rect x="627.62" y="839.44" width="25.51" height="25.51" fill="#ccccff"/>
<rect x="653.13" y="839.44" width="25.51" height="25.51" fill="#e6e6ff"/>
<rect x="193.95" y="864.95" width="25.51" height="25.51" fill="#ffb2b2"/>
<rect x="219.46" y="864.95" width="25.51" height="25.51" fill="#e6e6ff"/>
<rect x="244.97" y="864.95" width="25.51" height="25.51" fill="#ccccff"/>
<rect x="270.48" y="864.95" width="25.51" height="25.51" fill="#4c4cff"/>
<rect x="295.99" y="864.95" width="25.51" height="25.51" fill="#ffffff"/>
<rect x="321.5" y="864.95" width="51.02" height="25.51" fill="#9999ff"/>
<rect x="372.52" y="864.95" width="25.51" height="25.51" fill="#ffe6e6"/>
<rect x="398.03" y="864.95" width="25.51" height="25.51" fill="#ffffff"/>
<rect x="423.54" y="864.95" width="25.51" height="25.51" fill="#e6e6ff"/>
<rect x="449.05" y="864.95" width="51.02" height="25.51" fill="#ff3333"/>
<rect x="500.07" y="864.95" width="25.51" height="25.51" fill="#ff0000"/>
<rect x="525.58" y="864.95" width="25.51" height="25.51" fill="#ff3333"/>
<rect x="551.09" y="864.95" width="25.51" height="25.51" fill="#ff1a1a"/>
<rect x="576.6" y="864.95" width="25.51" height="25.51" fill="#4c4cff"/>
<rect x="602.11" y="864.95" width="25.51" height="25.51" fill="#0000ff"/>
<rect x="627.62" y="864.95" width="25.51" height="25.51" fill="#3333ff"/>
<rect x="653.13" y="864.95" width="25.51" height="25.51" fill="#9999ff"/>
<rect x="193.95" y="890.46" width="25.51" height="25.51" fill="#b2b2ff"/>
<rect x="219.46" y="890.46" width="25.51" height="25.51" fill="#9999ff"/>
<rect x="244.97" y="890.46" width="25.51" height="25.51" fill="#4c4cff"/>
<rect x="270.48" y="890.46" width="25.51" height="25.51" fill="#1a1aff"/>
<rect x="295.99" y="890.46" width="25.51" height="25.51" fill="#8080ff"/>
<rect x="321.5" y="890.46" width="51.02" height="25.51" fill="#6666ff"/>
<rect x="372.52" y="890.46" width="25.51" height="25.51" fill="#b2b2ff"/>
<rect x="398.03" y="890.46" width="51.02" height="25.51" fill="#9999ff"/>
<rect x="449.05" y="890.46" width="51.02" height="25.51" fill="#ff6666"/>
<rect x="500.07" y="890.46" width="25.51" height="25.51" fill="#ff0000"/>
<rect x="525.58" y="890.46" width="51.02" height="25.51" fill="#ff4c4c"/>
<rect x="576.6" y="890.46" width="25.51" height="25.51" fill="#0000ff"/>
<rect x="602.11" y="890.46" width="25.51" height="25.51" fill="#4c4cff"/>
<rect x="627.62" y="890.46" width="25.51" height="25.51" fill="#1a1aff"/>
<rect x="653.13" y="890.46" width="25.51" height="25.51" fill="#8080ff"/>
<rect x="193.95" y="915.96" width="25.51" height="25.51" fill="#e6e6ff"/>
<rect x="219.46" y="915.96" width="25.51" height="25.51" fill="#ccccff"/>
<rect x="244.97" y="915.96" width="25.51" height="25.51" fill="#9999ff"/>
<rect x="270.48" y="915.96" width="25.51" height="25.51" fill="#3333ff"/>
<rect x="295.99" y="915.96" width="76.53" height="25.51" fill="#9999ff"/>
<rect x="372.52" y="915.96" width="25.51" height="25.51" fill="#e6e6ff"/>
<rect x="398.03" y="915.96" width="25.51" height="25.51" fill="#b2b2ff"/>
<rect x="423.54" y="915.96" width="25.51" height="25.51" fill="#9999ff"/>
<rect x="449.05" y="915.96" width="25.51" height="25.51" fill="#ff6666"/>
<rect x="474.56" y="915.96" width="25.51" height="25.51" fill="#ff8080"/>
<rect x="500.07" y="915.96" width="25.51" height="25.51" fill="#ff0000"/>
<rect x="525.58" y="915.96" width="25.51" height="25.51" fill="#ff4c4c"/>
<rect x="551.09" y="915.96" width="25.51" height="25.51" fill="#ff6666"/>
<rect x="576.6" y="915.96" width="25.51" height="25.51" fill="#0000ff"/>
<rect x="602.11" y="915.96" width="51.02" height="25.51" fill="#3333ff"/>
<rect x="653.13" y="915.96" width="25.51" height="25.51" fill="#6666ff"/>
<rect x="193.95" y="941.47" width="25.51" height="25.51" fill="#8080ff"/>
<rect x="219.46" y="941.47" width="25.51" height="25.51" fill="#0000ff"/>
<rect x="244.97" y="941.47" width="25.51" height="25.51" fill="#4c4cff"/>
<rect x="270.48" y="941.47" width="25.51" height="25.51" fill="#1a1aff"/>
<rect x="295.99" y="941.47" width="25.51" height="25.51" fill="#e6e6ff"/>
<rect x="321.5" y="941.47" width="25.51" height="25.51" fill="#9999ff"/>
<rect x="347.01" y="941.47" width="25.51" height="25.51" fill="#0000ff"/>
<rect x="372.52" y="941.47" width="25.51" height="25.51" fill="#b2b2ff"/>
<rect x="398.03" y="941.47" width="51.02" height="25.51" fill="#9999ff"/>
<rect x="449.05" y="941.47" width="51.02" height="25.51" fill="#ff1a1a"/>
<rect x="500.07" y="941.47" width="25.51" height="25.51" fill="#ff0000"/>
<rect x="525.58" y="941.47" width="25.51" height="25.51" fill="#ff3333"/>
<rect x="551.09" y="941.47" width="25.51" height="25.51" fill="#ff1a1a"/>
<rect x="576.6" y="941.47" width="25.51" height="25.51" fill="#b2b2ff"/>
<rect x="602.11" y="941.47" width="25.51" height="25.51" fill="#ffffff"/>
<rect x="627.62" y="941.47" width="25.51" height="25.51" fill="#6666ff"/>
<rect x="653.13" y="941.47" width="25.51" height="25.51" fill="#ffcccc"/>
<rect x="193.95" y="966.97" width="25.51" height="25.51" fill="#8080ff"/>
<rect x="219.46" y="966.97" width="25.51" height="25.51" fill="#6666ff"/>
<rect x="244.97" y="966.97" width="25.51" height="25.51" fill="#4c4cff"/>
<rect x="270.48" y="966.97" width="25.51" height="25.51" fill="#0000ff"/>
<rect x="295.99" y="966.97" width="25.51" height="25.51" fill="#8080ff"/>
<rect x="321.5" y="966.97" width="25.51" height="25.51" fill="#6666ff"/>
<rect x="347.01" y="966.97" width="25.51" height="25.51" fill="#1a1aff"/>
<rect x="372.52" y="966.97" width="25.51" height="25.51" fill="#8080ff"/>
<rect x="398.03" y="966.97" width="25.51" height="25.51" fill="#6666ff"/>
<rect x="423.54" y="966.97" width="25.51" height="25.51" fill="#4c4cff"/>
<rect x="449.05" y="966.97" width="25.51" height="25.51" fill="#ff1a1a"/>
<rect x="474.56" y="966.97" width="25.51" height="25.51" fill="#ff3333"/>
<rect x="500.07" y="966.97" width="25.51" height="25.51" fill="#ff1a1a"/>
<rect x="525.58" y="966.97" width="25.51" height="25.51" fill="#ff0000"/>
<rect x="551.09" y="966.97" width="25.51" height="25.51" fill="#ff1a1a"/>
<rect x="576.6" y="966.97" width="51.02" height="25.51" fill="#6666ff"/>
<rect x="627.62" y="966.97" width="25.51" height="25.51" fill="#4c4cff"/>
<rect x="653.13" y="966.97" width="25.51" height="25.51" fill="#ccccff"/>
<rect x="193.95" y="992.48" width="51.02" height="25.51" fill="#6666ff"/>
<rect x="244.97" y="992.48" width="25.51" height="25.51" fill="#3333ff"/>
<rect x="270.48" y="992.48" width="25.51" height="25.51" fill="#0000ff"/>
<rect x="295.99" y="992.48" width="25.51" height="25.51" fill="#6666ff"/>
<rect x="321.5" y="992.48" width="25.51" height="25.51" fill="#8080ff"/>
<rect x="347.01" y="992.48" width="25.51" height="25.51" fill="#1a1aff"/>
<rect x="372.52" y="992.48" width="25.51" height="25.51" fill="#8080ff"/>
<rect x="398.03" y="992.48" width="25.51" height="25.51" fill="#4c4cff"/>
<rect x="423.54" y="992.48" width="25.51" height="25.51" fill="#6666ff"/>
<rect x="449.05" y="992.48" width="51.02" height="25.51" fill="#ff3333"/>
<rect x="500.07" y="992.48" width="25.51" height="25.51" fill="#ff1a1a"/>
<rect x="525.58" y="992.48" width="25.51" height="25.51" fill="#ff0000"/>
<rect x="551.09" y="992.48" width="25.51" height="25.51" fill="#ff3333"/>
<rect x="576.6" y="992.48" width="25.51" height="25.51" fill="#3333ff"/>
<rect x="602.11" y="992.48" width="25.51" height="25.51" fill="#8080ff"/>
<rect x="627.62" y="992.48" width="25.51" height="25.51" fill="#6666ff"/>
<rect x="653.13" y="992.48" width="25.51" height="25.51" fill="#b2b2ff"/>
<rect x="193.95" y="1017.99" width="25.51" height="25.51" fill="#6666ff"/>
<rect x="219.46" y="1017.99" width="25.51" height="25.51" fill="#4c4cff"/>
<rect x="244.97" y="1017.99" width="25.51" height="25.51" fill="#6666ff"/>
<rect x="270.48" y="1017.99" width="25.51" height="25.51" fill="#0000ff"/>
<rect x="295.99" y="1017.99" width="25.51" height="25.51" fill="#8080ff"/>
<rect x="321.5" y="1017.99" width="25.51" height="25.51" fill="#ccccff"/>
<rect x="347.01" y="1017.99" width="25.51" height="25.51" fill="#4c4cff"/>
<rect x="372.52" y="1017.99" width="51.02" height="25.51" fill="#8080ff"/>
<rect x="423.54" y="1017.99" width="25.51" height="25.51" fill="#4c4cff"/>
<rect x="449.05" y="1017.99" width="25.51" height="25.51" fill="#ff4c4c"/>
<rect x="474.56" y="1017.99" width="25.51" height="25.51" fill="#ff6666"/>
<rect x="500.07" y="1017.99" width="25.51" height="25.51" fill="#ff0000"/>
<rect x="525.58" y="1017.99" width="25.51" height="25.51" fill="#ff1a1a"/>
<rect x="551.09" y="1017.99" width="25.51" height="25.51" fill="#ff3333"/>
<rect x="576.6" y="1017.99" width="25.51" height="25.51" fill="#3333ff"/>
<rect x="602.11" y="1017.99" width="51.02" height="25.51" fill="#6666ff"/>
<rect x="653.13" y="1017.99" width="25.51" height="25.51" fill="#8080ff"/>
<rect x="193.95" y="1043.49" width="25.51" height="25.51" fill="#4c4cff"/>
<rect x="219.46" y="1043.49" width="25.51" height="25.51" fill="#3333ff"/>
<rect x="244.97" y="1043.49" width="25.51" height="25.51" fill="#1a1aff"/>
<rect x="270.48" y="1043.49" width="25.51" height="25.51" fill="#0000ff"/>
<rect x="295.99" y="1043.49" width="25.51" height="25.51" fill="#6666ff"/>
<rect x="321.5" y="1043.49" width="25.51" height="25.51" fill="#8080ff"/>
<rect x="347.01" y="1043.49" width="25.51" height="25.51" fill="#1a1aff"/>
<rect x="372.52" y="1043.49" width="25.51" height="25.51" fill="#4c4cff"/>
<rect x="398.03" y="1043.49" width="51.02" height="25.51" fill="#3333ff"/>
<rect x="449.05" y="1043.49" width="25.51" height="25.51" fill="#ff1a1a"/>
<rect x="474.56" y="1043.49" width="25.51" height="25.51" fill="#ff4c4c"/>
<rect x="500.07" y="1043.49" width="25.51" height="25.51" fill="#ff3333"/>
<rect x="525.58" y="1043.49" width="25.51" height="25.51" fill="#ff0000"/>
<rect x="551.09" y="1043.49" width="25.51" height="25.51" fill="#ff3333"/>
<rect x="576.6" y="1043.49" width="51.02" height="25.51" fill="#9999ff"/>
<rect x="627.62" y="1043.49" width="25.51" height="25.51" fill="#8080ff"/>
<rect x="653.13" y="1043.49" width="25.51" height="25.51" fill="#ffffff"/>
<rect x="193.95" y="1069" width="76.53" height="25.51" fill="#1a1aff"/>
<rect x="270.48" y="1069" width="25.51" height="25.51" fill="#0000ff"/>
<rect x="295.99" y="1069" width="25.51" height="25.51" fill="#4c4cff"/>
<rect x="321.5" y="1069" width="25.51" height="25.51" fill="#8080ff"/>
<rect x="347.01" y="1069" width="25.51" height="25.51" fill="#0000ff"/>
<rect x="372.52" y="1069" width="25.51" height="25.51" fill="#4c4cff"/>
<rect x="398.03" y="1069" width="25.51" height="25.51" fill="#3333ff"/>
<rect x="423.54" y="1069" width="25.51" height="25.51" fill="#1a1aff"/>
<rect x="449.05" y="1069" width="25.51" height="25.51" fill="#ff1a1a"/>
<rect x="474.56" y="1069" width="51.02" height="25.51" fill="#ff3333"/>
<rect x="525.58" y="1069" width="25.51" height="25.51" fill="#ff0000"/>
<rect x="551.09" y="1069" width="25.51" height="25.51" fill="#ff3333"/>
<rect x="576.6" y="1069" width="25.51" height="25.51" fill="#4c4cff"/>
<rect x="602.11" y="1069" width="25.51" height="25.51" fill="#9999ff"/>
<rect x="627.62" y="1069" width="25.51" height="25.51" fill="#6666ff"/>
<rect x="653.13" y="1069" width="25.51" height="25.51" fill="#ffe6e6"/>
<rect x="193.95" y="1094.5" width="76.53" height="25.51" fill="#1a1aff"/>
<rect x="270.48" y="1094.5" width="25.51" height="25.51" fill="#0000ff"/>
<rect x="295.99" y="1094.5" width="25.51" height="25.51" fill="#6666ff"/>
<rect x="321.5" y="1094.5" width="25.51" height="25.51" fill="#8080ff"/>
<rect x="347.01" y="1094.5" width="25.51" height="25.51" fill="#3333ff"/>
<rect x="372.52" y="1094.5" width="25.51" height="25.51" fill="#4c4cff"/>
<rect x="398.03" y="1094.5" width="25.51" height="25.51" fill="#3333ff"/>
<rect x="423.54" y="1094.5" width="25.51" height="25.51" fill="#1a1aff"/>
<rect x="449.05" y="1094.5" width="76.53" height="25.51" fill="#ff6666"/>
<rect x="525.58" y="1094.5" width="25.51" height="25.51" fill="#ff0000"/>
<rect x="551.09" y="1094.5" width="25.51" height="25.51" fill="#ff6666"/>
<rect x="576.6" y="1094.5" width="25.51" height="25.51" fill="#3333ff"/>
<rect x="602.11" y="1094.5" width="25.51" height="25.51" fill="#9999ff"/>
<rect x="627.62" y="1094.5" width="25.51" height="25.51" fill="#8080ff"/>
<rect x="653.13" y="1094.5" width="25.51" height="25.51" fill="#ccccff"/>
<rect x="193.95" y="1120.01" width="25.51" height="25.51" fill="#8080ff"/>
<rect x="219.46" y="1120.01" width="25.51" height="25.51" fill="#1a1aff"/>
<rect x="244.97" y="1120.01" width="25.51" height="25.51" fill="#4c4cff"/>
<rect x="270.48" y="1120.01" width="25.51" height="25.51" fill="#0000ff"/>
<rect x="295.99" y="1120.01" width="51.02" height="25.51" fill="#9999ff"/>
<rect x="347.01" y="1120.01" width="25.51" height="25.51" fill="#6666ff"/>
<rect x="372.52" y="1120.01" width="25.51" height="25.51" fill="#8080ff"/>
<rect x="398.03" y="1120.01" width="51.02" height="25.51" fill="#6666ff"/>
<rect x="449.05" y="1120.01" width="25.51" height="25.51" fill="#ff3333"/>
<rect x="474.56" y="1120.01" width="25.51" height="25.51" fill="#ff6666"/>
<rect x="500.07" y="1120.01" width="25.51" height="25.51" fill="#ff4c4c"/>
<rect x="525.58" y="1120.01" width="25.51" height="25.51" fill="#ff0000"/>
<rect x="551.09" y="1120.01" width="25.51" height="25.51" fill="#ff6666"/>
<rect x="576.6" y="1120.01" width="51.02" height="25.51" fill="#9999ff"/>
<rect x="627.62" y="1120.01" width="25.51" height="25.51" fill="#6666ff"/>
<rect x="653.13" y="1120.01" width="25.51" height="25.51" fill="#ffffff"/>
<rect x="193.95" y="1145.52" width="25.51" height="25.51" fill="#8080ff"/>
<rect x="219.46" y="1145.52" width="25.51" height="25.51" fill="#4c4cff"/>
<rect x="244.97" y="1145.52" width="25.51" height="25.51" fill="#8080ff"/>
<rect x="270.48" y="1145.52" width="25.51" height="25.51" fill="#0000ff"/>
<rect x="295.99" y="1145.52" width="25.51" height="25.51" fill="#ccccff"/>
<rect x="321.5" y="1145.52" width="25.51" height="25.51" fill="#b2b2ff"/>
<rect x="347.01" y="1145.52" width="25.51" height="25.51" fill="#8080ff"/>
<rect x="372.52" y="1145.52" width="25.51" height="25.51" fill="#9999ff"/>
<rect x="398.03" y="1145.52" width="25.51" height="25.51" fill="#b2b2ff"/>
<rect x="423.54" y="1145.52" width="25.51" height="25.51" fill="#6666ff"/>
<rect x="449.05" y="1145.52" width="25.51" height="25.51" fill="#ff6666"/>
<rect x="474.56" y="1145.52" width="25.51" height="25.51" fill="#ff4c4c"/>
<rect x="500.07" y="1145.52" width="25.51" height="25.51" fill="#ff1a1a"/>
<rect x="525.58" y="1145.52" width="25.51" height="25.51" fill="#ff3333"/>
<rect x="551.09" y="1145.52" width="25.51" height="25.51" fill="#ff0000"/>
<rect x="576.6" y="1145.52" width="25.51" height="25.51" fill="#3333ff"/>
<rect x="602.11" y="1145.52" width="25.51" height="25.51" fill="#6666ff"/>
<rect x="627.62" y="1145.52" width="25.51" height="25.51" fill="#3333ff"/>
<rect x="653.13" y="1145.52" width="25.51" height="25.51" fill="#1a1aff"/>
<rect x="193.95" y="1171.02" width="25.51" height="25.51" fill="#8080ff"/>
<rect x="219.46" y="1171.02" width="25.51" height="25.51" fill="#4c4cff"/>
<rect x="244.97" y="1171.02" width="25.51" height="25.51" fill="#6666ff"/>
<rect x="270.48" y="1171.02" width="25.51" height="25.51" fill="#1a1aff"/>
<rect x="295.99" y="1171.02" width="25.51" height="25.51" fill="#ccccff"/>
<rect x="321.5" y="1171.02" width="25.51" height="25.51" fill="#ffe6e6"/>
<rect x="347.01" y="1171.02" width="51.02" height="25.51" fill="#9999ff"/>
<rect x="398.03" y="1171.02" width="25.51" height="25.51" fill="#8080ff"/>
<rect x="423.54" y="1171.02" width="25.51" height="25.51" fill="#4c4cff"/>
<rect x="449.05" y="1171.02" width="76.53" height="25.51" fill="#ff3333"/>
<rect x="525.58" y="1171.02" width="25.51" height="25.51" fill="#ff0000"/>
<rect x="551.09" y="1171.02" width="25.51" height="25.51" fill="#ff9999"/>
<rect x="576.6" y="1171.02" width="25.51" height="25.51" fill="#1a1aff"/>
<rect x="602.11" y="1171.02" width="25.51" height="25.51" fill="#6666ff"/>
<rect x="627.62" y="1171.02" width="25.51" height="25.51" fill="#0000ff"/>
<rect x="653.13" y="1171.02" width="25.51" height="25.51" fill="#9999ff"/>
<rect x="193.95" y="1196.53" width="25.51" height="25.51" fill="#ff0000"/>
<rect x="219.46" y="1196.53" width="25.51" height="25.51" fill="#ff6666"/>
<rect x="244.97" y="1196.53" width="25.51" height="25.51" fill="#ffcccc"/>
<rect x="270.48" y="1196.53" width="25.51" height="25.51" fill="#ffffff"/>
<rect x="295.99" y="1196.53" width="25.51" height="25.51" fill="#e6e6ff"/>
<rect x="321.5" y="1196.53" width="25.51" height="25.51" fill="#ff8080"/>
<rect x="347.01" y="1196.53" width="25.51" height="25.51" fill="#ff3333"/>
<rect x="372.52" y="1196.53" width="25.51" height="25.51" fill="#ff4c4c"/>
<rect x="398.03" y="1196.53" width="25.51" height="25.51" fill="#e6e6ff"/>
<rect x="423.54" y="1196.53" width="25.51" height="25.51" fill="#ffffff"/>
<rect x="449.05" y="1196.53" width="25.51" height="25.51" fill="#ffe6e6"/>
<rect x="474.56" y="1196.53" width="51.02" height="25.51" fill="#ff4c4c"/>
<rect x="525.58" y="1196.53" width="25.51" height="25.51" fill="#ff1a1a"/>
<rect x="551.09" y="1196.53" width="25.51" height="25.51" fill="#ff9999"/>
<rect x="576.6" y="1196.53" width="25.51" height="25.51" fill="#ffffff"/>
<rect x="602.11" y="1196.53" width="25.51" height="25.51" fill="#0000ff"/>
<rect x="627.62" y="1196.53" width="25.51" height="25.51" fill="#9999ff"/>
<rect x="653.13" y="1196.53" width="25.51" height="25.51" fill="#ff4c4c"/>
<rect x="193.95" y="1222.03" width="25.51" height="25.51" fill="#ff0000"/>
<rect x="219.46" y="1222.03" width="25.51" height="25.51" fill="#ffb2b2"/>
<rect x="244.97" y="1222.03" width="25.51" height="25.51" fill="#ff9999"/>
<rect x="270.48" y="1222.03" width="25.51" height="25.51" fill="#e6e6ff"/>
<rect x="295.99" y="1222.03" width="25.51" height="25.51" fill="#ff4c4c"/>
<rect x="321.5" y="1222.03" width="51.02" height="25.51" fill="#ffb2b2"/>
<rect x="372.52" y="1222.03" width="25.51" height="25.51" fill="#ff1a1a"/>
<rect x="398.03" y="1222.03" width="51.02" height="25.51" fill="#ff4c4c"/>
<rect x="449.05" y="1222.03" width="25.51" height="25.51" fill="#8080ff"/>
<rect x="474.56" y="1222.03" width="25.51" height="25.51" fill="#ffb2b2"/>
<rect x="500.07" y="1222.03" width="25.51" height="25.51" fill="#ff3333"/>
<rect x="525.58" y="1222.03" width="25.51" height="25.51" fill="#ccccff"/>
<rect x="551.09" y="1222.03" width="25.51" height="25.51" fill="#ffe6e6"/>
<rect x="576.6" y="1222.03" width="25.51" height="25.51" fill="#ffffff"/>
<rect x="602.11" y="1222.03" width="25.51" height="25.51" fill="#0000ff"/>
<rect x="627.62" y="1222.03" width="25.51" height="25.51" fill="#e6e6ff"/>
<rect x="653.13" y="1222.03" width="25.51" height="25.51" fill="#ff8080"/>
<rect x="193.95" y="1247.54" width="25.51" height="25.51" fill="#ff0000"/>
<rect x="219.46" y="1247.54" width="25.51" height="25.51" fill="#ff6666"/>
<rect x="244.97" y="1247.54" width="25.51" height="25.51" fill="#ffffff"/>
<rect x="270.48" y="1247.54" width="25.51" height="25.51" fill="#0000ff"/>
<rect x="295.99" y="1247.54" width="25.51" height="25.51" fill="#ffcccc"/>
<rect x="321.5" y="1247.54" width="25.51" height="25.51" fill="#9999ff"/>
<rect x="347.01" y="1247.54" width="25.51" height="25.51" fill="#4c4cff"/>
<rect x="372.52" y="1247.54" width="25.51" height="25.51" fill="#ff3333"/>
<rect x="398.03" y="1247.54" width="25.51" height="25.51" fill="#ffffff"/>
<rect x="423.54" y="1247.54" width="25.51" height="25.51" fill="#e6e6ff"/>
<rect x="449.05" y="1247.54" width="25.51" height="25.51" fill="#ff9999"/>
<rect x="474.56" y="1247.54" width="25.51" height="25.51" fill="#ff8080"/>
<rect x="500.07" y="1247.54" width="25.51" height="25.51" fill="#ffe6e6"/>
<rect x="525.58" y="1247.54" width="25.51" height="25.51" fill="#ff9999"/>
<rect x="551.09" y="1247.54" width="25.51" height="25.51" fill="#ffcccc"/>
<rect x="576.6" y="1247.54" width="25.51" height="25.51" fill="#ffb2b2"/>
<rect x="602.11" y="1247.54" width="25.51" height="25.51" fill="#ffffff"/>
<rect x="627.62" y="1247.54" width="25.51" height="25.51" fill="#8080ff"/>
<rect x="653.13" y="1247.54" width="25.51" height="25.51" fill="#ffe6e6"/>
<rect x="193.95" y="1273.05" width="25.51" height="25.51" fill="#ff4c4c"/>
<rect x="219.46" y="1273.05" width="25.51" height="25.51" fill="#ff8080"/>
<rect x="244.97" y="1273.05" width="25.51" height="25.51" fill="#0000ff"/>
<rect x="270.48" y="1273.05" width="25.51" height="25.51" fill="#1a1aff"/>
<rect x="295.99" y="1273.05" width="25.51" height="25.51" fill="#ffcccc"/>
<rect x="321.5" y="1273.05" width="25.51" height="25.51" fill="#6666ff"/>
<rect x="347.01" y="1273.05" width="25.51" height="25.51" fill="#e6e6ff"/>
<rect x="372.52" y="1273.05" width="25.51" height="25.51" fill="#ff0000"/>
<rect x="398.03" y="1273.05" width="25.51" height="25.51" fill="#0000ff"/>
<rect x="423.54" y="1273.05" width="25.51" height="25.51" fill="#9999ff"/>
<rect x="449.05" y="1273.05" width="25.51" height="25.51" fill="#ffffff"/>
<rect x="474.56" y="1273.05" width="25.51" height="25.51" fill="#b2b2ff"/>
<rect x="500.07" y="1273.05" width="25.51" height="25.51" fill="#ccccff"/>
<rect x="525.58" y="1273.05" width="25.51" height="25.51" fill="#ffffff"/>
<rect x="551.09" y="1273.05" width="25.51" height="25.51" fill="#8080ff"/>
<rect x="576.6" y="1273.05" width="51.02" height="25.51" fill="#9999ff"/>
<rect x="627.62" y="1273.05" width="25.51" height="25.51" fill="#6666ff"/>
<rect x="653.13" y="1273.05" width="25.51" height="25.51" fill="#4c4cff"/>
<rect x="193.95" y="1298.55" width="25.51" height="25.51" fill="#ffb2b2"/>
<rect x="219.46" y="1298.55" width="25.51" height="25.51" fill="#ff8080"/>
<rect x="244.97" y="1298.55" width="25.51" height="25.51" fill="#8080ff"/>
<rect x="270.48" y="1298.55" width="25.51" height="25.51" fill="#9999ff"/>
<rect x="295.99" y="1298.55" width="25.51" height="25.51" fill="#ffb2b2"/>
<rect x="321.5" y="1298.55" width="25.51" height="25.51" fill="#0000ff"/>
<rect x="347.01" y="1298.55" width="25.51" height="25.51" fill="#ff9999"/>
<rect x="372.52" y="1298.55" width="25.51" height="25.51" fill="#ff0000"/>
<rect x="398.03" y="1298.55" width="25.51" height="25.51" fill="#ffe6e6"/>
<rect x="423.54" y="1298.55" width="25.51" height="25.51" fill="#ffcccc"/>
<rect x="449.05" y="1298.55" width="25.51" height="25.51" fill="#e6e6ff"/>
<rect x="474.56" y="1298.55" width="25.51" height="25.51" fill="#ff3333"/>
<rect x="500.07" y="1298.55" width="25.51" height="25.51" fill="#ff1a1a"/>
<rect x="525.58" y="1298.55" width="25.51" height="25.51" fill="#9999ff"/>
<rect x="551.09" y="1298.55" width="25.51" height="25.51" fill="#ff9999"/>
<rect x="576.6" y="1298.55" width="25.51" height="25.51" fill="#8080ff"/>
<rect x="602.11" y="1298.55" width="25.51" height="25.51" fill="#ffcccc"/>
<rect x="627.62" y="1298.55" width="25.51" height="25.51" fill="#b2b2ff"/>
<rect x="653.13" y="1298.55" width="25.51" height="25.51" fill="#ffe6e6"/>
<rect x="193.95" y="1324.06" width="25.51" height="25.51" fill="#ffb2b2"/>
<rect x="219.46" y="1324.06" width="25.51" height="25.51" fill="#ccccff"/>
<rect x="244.97" y="1324.06" width="25.51" height="25.51" fill="#ffe6e6"/>
<rect x="270.48" y="1324.06" width="25.51" height="25.51" fill="#1a1aff"/>
<rect x="295.99" y="1324.06" width="25.51" height="25.51" fill="#ff8080"/>
<rect x="321.5" y="1324.06" width="25.51" height="25.51" fill="#ff0000"/>
<rect x="347.01" y="1324.06" width="25.51" height="25.51" fill="#b2b2ff"/>
<rect x="372.52" y="1324.06" width="25.51" height="25.51" fill="#ff6666"/>
<rect x="398.03" y="1324.06" width="25.51" height="25.51" fill="#ffffff"/>
<rect x="423.54" y="1324.06" width="25.51" height="25.51" fill="#ffcccc"/>
<rect x="449.05" y="1324.06" width="25.51" height="25.51" fill="#ffffff"/>
<rect x="474.56" y="1324.06" width="25.51" height="25.51" fill="#9999ff"/>
<rect x="500.07" y="1324.06" width="25.51" height="25.51" fill="#ff6666"/>
<rect x="525.58" y="1324.06" width="25.51" height="25.51" fill="#ccccff"/>
<rect x="551.09" y="1324.06" width="25.51" height="25.51" fill="#ffe6e6"/>
<rect x="576.6" y="1324.06" width="25.51" height="25.51" fill="#b2b2ff"/>
<rect x="602.11" y="1324.06" width="25.51" height="25.51" fill="#ff9999"/>
<rect x="627.62" y="1324.06" width="25.51" height="25.51" fill="#0000ff"/>
<rect x="653.13" y="1324.06" width="25.51" height="25.51" fill="#ffffff"/>
<rect x="193.95" y="1349.56" width="25.51" height="25.51" fill="#ff6666"/>
<rect x="219.46" y="1349.56" width="25.51" height="25.51" fill="#ffcccc"/>
<rect x="244.97" y="1349.56" width="25.51" height="25.51" fill="#e6e6ff"/>
<rect x="270.48" y="1349.56" width="25.51" height="25.51" fill="#b2b2ff"/>
<rect x="295.99" y="1349.56" width="25.51" height="25.51" fill="#ffffff"/>
<rect x="321.5" y="1349.56" width="25.51" height="25.51" fill="#8080ff"/>
<rect x="347.01" y="1349.56" width="25.51" height="25.51" fill="#b2b2ff"/>
<rect x="372.52" y="1349.56" width="25.51" height="25.51" fill="#ff8080"/>
<rect x="398.03" y="1349.56" width="25.51" height="25.51" fill="#ffcccc"/>
<rect x="423.54" y="1349.56" width="25.51" height="25.51" fill="#ffb2b2"/>
<rect x="449.05" y="1349.56" width="25.51" height="25.51" fill="#0000ff"/>
<rect x="474.56" y="1349.56" width="25.51" height="25.51" fill="#4c4cff"/>
<rect x="500.07" y="1349.56" width="51.02" height="25.51" fill="#6666ff"/>
<rect x="551.09" y="1349.56" width="25.51" height="25.51" fill="#4c4cff"/>
<rect x="576.6" y="1349.56" width="25.51" height="25.51" fill="#ff6666"/>
<rect x="602.11" y="1349.56" width="25.51" height="25.51" fill="#ff1a1a"/>
<rect x="627.62" y="1349.56" width="25.51" height="25.51" fill="#ff0000"/>
<rect x="653.13" y="1349.56" width="25.51" height="25.51" fill="#ff6666"/>
<rect x="193.95" y="1375.07" width="25.51" height="25.51" fill="#ff0000"/>
<rect x="219.46" y="1375.07" width="51.02" height="25.51" fill="#ff8080"/>
<rect x="270.48" y="1375.07" width="25.51" height="25.51" fill="#e6e6ff"/>
<rect x="295.99" y="1375.07" width="25.51" height="25.51" fill="#ff8080"/>
<rect x="321.5" y="1375.07" width="25.51" height="25.51" fill="#e6e6ff"/>
<rect x="347.01" y="1375.07" width="25.51" height="25.51" fill="#ffcccc"/>
<rect x="372.52" y="1375.07" width="25.51" height="25.51" fill="#ff3333"/>
<rect x="398.03" y="1375.07" width="51.02" height="25.51" fill="#ff6666"/>
<rect x="449.05" y="1375.07" width="25.51" height="25.51" fill="#0000ff"/>
<rect x="474.56" y="1375.07" width="25.51" height="25.51" fill="#4c4cff"/>
<rect x="500.07" y="1375.07" width="25.51" height="25.51" fill="#3333ff"/>
<rect x="525.58" y="1375.07" width="25.51" height="25.51" fill="#4c4cff"/>
<rect x="551.09" y="1375.07" width="25.51" height="25.51" fill="#3333ff"/>
<rect x="576.6" y="1375.07" width="25.51" height="25.51" fill="#ff8080"/>
<rect x="602.11" y="1375.07" width="25.51" height="25.51" fill="#ff6666"/>
<rect x="627.62" y="1375.07" width="25.51" height="25.51" fill="#ff4c4c"/>
<rect x="653.13" y="1375.07" width="25.51" height="25.51" fill="#ff8080"/>
<rect x="193.95" y="1400.58" width="25.51" height="25.51" fill="#ff0000"/>
<rect x="219.46" y="1400.58" width="51.02" height="25.51" fill="#ff6666"/>
<rect x="270.48" y="1400.58" width="25.51" height="25.51" fill="#ffcccc"/>
<rect x="295.99" y="1400.58" width="25.51" height="25.51" fill="#ff6666"/>
<rect x="321.5" y="1400.58" width="25.51" height="25.51" fill="#ffffff"/>
<rect x="347.01" y="1400.58" width="25.51" height="25.51" fill="#ff9999"/>
<rect x="372.52" y="1400.58" width="25.51" height="25.51" fill="#ff1a1a"/>
<rect x="398.03" y="1400.58" width="51.02" height="25.51" fill="#ff3333"/>
<rect x="449.05" y="1400.58" width="25.51" height="25.51" fill="#0000ff"/>
<rect x="474.56" y="1400.58" width="25.51" height="25.51" fill="#3333ff"/>
<rect x="500.07" y="1400.58" width="25.51" height="25.51" fill="#6666ff"/>
<rect x="525.58" y="1400.58" width="25.51" height="25.51" fill="#1a1aff"/>
<rect x="551.09" y="1400.58" width="25.51" height="25.51" fill="#0000ff"/>
<rect x="576.6" y="1400.58" width="25.51" height="25.51" fill="#ff8080"/>
<rect x="602.11" y="1400.58" width="25.51" height="25.51" fill="#ff6666"/>
<rect x="627.62" y="1400.58" width="25.51" height="25.51" fill="#ff4c4c"/>
<rect x="653.13" y="1400.58" width="25.51" height="25.51" fill="#ff8080"/>
<rect x="193.95" y="1426.08" width="25.51" height="25.51" fill="#ff1a1a"/>
<rect x="219.46" y="1426.08" width="25.51" height="25.51" fill="#ff6666"/>
<rect x="244.97" y="1426.08" width="25.51" height="25.51" fill="#ff8080"/>
<rect x="270.48" y="1426.08" width="25.51" height="25.51" fill="#ffcccc"/>
<rect x="295.99" y="1426.08" width="25.51" height="25.51" fill="#ff6666"/>
<rect x="321.5" y="1426.08" width="25.51" height="25.51" fill="#ccccff"/>
<rect x="347.01" y="1426.08" width="25.51" height="25.51" fill="#ff8080"/>
<rect x="372.52" y="1426.08" width="25.51" height="25.51" fill="#ff0000"/>
<rect x="398.03" y="1426.08" width="25.51" height="25.51" fill="#ff4c4c"/>
<rect x="423.54" y="1426.08" width="25.51" height="25.51" fill="#ff3333"/>
<rect x="449.05" y="1426.08" width="25.51" height="25.51" fill="#3333ff"/>
<rect x="474.56" y="1426.08" width="25.51" height="25.51" fill="#6666ff"/>
<rect x="500.07" y="1426.08" width="25.51" height="25.51" fill="#9999ff"/>
<rect x="525.58" y="1426.08" width="51.02" height="25.51" fill="#0000ff"/>
<rect x="576.6" y="1426.08" width="25.51" height="25.51" fill="#ffcccc"/>
<rect x="602.11" y="1426.08" width="25.51" height="25.51" fill="#ff3333"/>
<rect x="627.62" y="1426.08" width="25.51" height="25.51" fill="#ff8080"/>
<rect x="653.13" y="1426.08" width="25.51" height="25.51" fill="#ff9999"/>
<rect x="193.95" y="1451.59" width="25.51" height="25.51" fill="#ff0000"/>
<rect x="219.46" y="1451.59" width="25.51" height="25.51" fill="#ff1a1a"/>
<rect x="244.97" y="1451.59" width="25.51" height="25.51" fill="#ff6666"/>
<rect x="270.48" y="1451.59" width="25.51" height="25.51" fill="#ffcccc"/>
<rect x="295.99" y="1451.59" width="76.53" height="25.51" fill="#ff6666"/>
<rect x="372.52" y="1451.59" width="25.51" height="25.51" fill="#ff4c4c"/>
<rect x="398.03" y="1451.59" width="25.51" height="25.51" fill="#ff6666"/>
<rect x="423.54" y="1451.59" width="25.51" height="25.51" fill="#ff9999"/>
<rect x="449.05" y="1451.59" width="51.02" height="25.51" fill="#b2b2ff"/>
<rect x="500.07" y="1451.59" width="25.51" height="25.51" fill="#e6e6ff"/>
<rect x="525.58" y="1451.59" width="25.51" height="25.51" fill="#0000ff"/>
<rect x="551.09" y="1451.59" width="25.51" height="25.51" fill="#8080ff"/>
<rect x="576.6" y="1451.59" width="25.51" height="25.51" fill="#ff4c4c"/>
<rect x="602.11" y="1451.59" width="25.51" height="25.51" fill="#ff6666"/>
<rect x="627.62" y="1451.59" width="25.51" height="25.51" fill="#ff9999"/>
<rect x="653.13" y="1451.59" width="25.51" height="25.51" fill="#ff8080"/>
<rect x="193.95" y="1477.09" width="25.51" height="25.51" fill="#ff9999"/>
<rect x="219.46" y="1477.09" width="25.51" height="25.51" fill="#ff8080"/>
<rect x="244.97" y="1477.09" width="25.51" height="25.51" fill="#ff9999"/>
<rect x="270.48" y="1477.09" width="51.02" height="25.51" fill="#ff1a1a"/>
<rect x="321.5" y="1477.09" width="25.51" height="25.51" fill="#ff4c4c"/>
<rect x="347.01" y="1477.09" width="25.51" height="25.51" fill="#ff8080"/>
<rect x="372.52" y="1477.09" width="25.51" height="25.51" fill="#ff3333"/>
<rect x="398.03" y="1477.09" width="25.51" height="25.51" fill="#ff8080"/>
<rect x="423.54" y="1477.09" width="25.51" height="25.51" fill="#ff0000"/>
<rect x="449.05" y="1477.09" width="25.51" height="25.51" fill="#ff1a1a"/>
<rect x="474.56" y="1477.09" width="25.51" height="25.51" fill="#ff6666"/>
<rect x="500.07" y="1477.09" width="25.51" height="25.51" fill="#ff4c4c"/>
<rect x="525.58" y="1477.09" width="25.51" height="25.51" fill="#0000ff"/>
<rect x="551.09" y="1477.09" width="25.51" height="25.51" fill="#e6e6ff"/>
<rect x="576.6" y="1477.09" width="25.51" height="25.51" fill="#8080ff"/>
<rect x="602.11" y="1477.09" width="25.51" height="25.51" fill="#ff8080"/>
<rect x="627.62" y="1477.09" width="25.51" height="25.51" fill="#8080ff"/>
<rect x="653.13" y="1477.09" width="25.51" height="25.51" fill="#9999ff"/>
<rect x="193.95" y="1502.6" width="25.51" height="25.51" fill="#ff4c4c"/>
<rect x="219.46" y="1502.6" width="25.51" height="25.51" fill="#ff8080"/>
<rect x="244.97" y="1502.6" width="76.53" height="25.51" fill="#ff9999"/>
<rect x="321.5" y="1502.6" width="25.51" height="25.51" fill="#ff0000"/>
<rect x="347.01" y="1502.6" width="25.51" height="25.51" fill="#ff1a1a"/>
<rect x="372.52" y="1502.6" width="25.51" height="25.51" fill="#ff3333"/>
<rect x="398.03" y="1502.6" width="25.51" height="25.51" fill="#ffb2b2"/>
<rect x="423.54" y="1502.6" width="25.51" height="25.51" fill="#ff9999"/>
<rect x="449.05" y="1502.6" width="25.51" height="25.51" fill="#ff1a1a"/>
<rect x="474.56" y="1502.6" width="25.51" height="25.51" fill="#ffb2b2"/>
<rect x="500.07" y="1502.6" width="25.51" height="25.51" fill="#ff8080"/>
<rect x="525.58" y="1502.6" width="25.51" height="25.51" fill="#4c4cff"/>
<rect x="551.09" y="1502.6" width="25.51" height="25.51" fill="#ffffff"/>
<rect x="576.6" y="1502.6" width="25.51" height="25.51" fill="#8080ff"/>
<rect x="602.11" y="1502.6" width="25.51" height="25.51" fill="#e6e6ff"/>
<rect x="627.62" y="1502.6" width="25.51" height="25.51" fill="#0000ff"/>
<rect x="653.13" y="1502.6" width="25.51" height="25.51" fill="#4c4cff"/>
<rect x="193.95" y="1528.11" width="25.51" height="25.51" fill="#ff0000"/>
<rect x="219.46" y="1528.11" width="51.02" height="25.51" fill="#ff6666"/>
<rect x="270.48" y="1528.11" width="25.51" height="25.51" fill="#ffb2b2"/>
<rect x="295.99" y="1528.11" width="25.51" height="25.51" fill="#ff6666"/>
<rect x="321.5" y="1528.11" width="25.51" height="25.51" fill="#ffb2b2"/>
<rect x="347.01" y="1528.11" width="25.51" height="25.51" fill="#ff9999"/>
<rect x="372.52" y="1528.11" width="25.51" height="25.51" fill="#ff3333"/>
<rect x="398.03" y="1528.11" width="51.02" height="25.51" fill="#ff4c4c"/>
<rect x="449.05" y="1528.11" width="25.51" height="25.51" fill="#1a1aff"/>
<rect x="474.56" y="1528.11" width="51.02" height="25.51" fill="#4c4cff"/>
<rect x="525.58" y="1528.11" width="25.51" height="25.51" fill="#3333ff"/>
<rect x="551.09" y="1528.11" width="25.51" height="25.51" fill="#0000ff"/>
<rect x="576.6" y="1528.11" width="25.51" height="25.51" fill="#e6e6ff"/>
<rect x="602.11" y="1528.11" width="25.51" height="25.51" fill="#ffffff"/>
<rect x="627.62" y="1528.11" width="25.51" height="25.51" fill="#ffe6e6"/>
<rect x="653.13" y="1528.11" width="25.51" height="25.51" fill="#ccccff"/>
<rect x="193.95" y="1553.61" width="25.51" height="25.51" fill="#ff0000"/>
<rect x="219.46" y="1553.61" width="51.02" height="25.51" fill="#ff6666"/>
<rect x="270.48" y="1553.61" width="25.51" height="25.51" fill="#ff8080"/>
<rect x="295.99" y="1553.61" width="25.51" height="25.51" fill="#ff6666"/>
<rect x="321.5" y="1553.61" width="25.51" height="25.51" fill="#ff8080"/>
<rect x="347.01" y="1553.61" width="25.51" height="25.51" fill="#ff6666"/>
<rect x="372.52" y="1553.61" width="25.51" height="25.51" fill="#ff3333"/>
<rect x="398.03" y="1553.61" width="51.02" height="25.51" fill="#ff4c4c"/>
<rect x="449.05" y="1553.61" width="25.51" height="25.51" fill="#0000ff"/>
<rect x="474.56" y="1553.61" width="25.51" height="25.51" fill="#6666ff"/>
<rect x="500.07" y="1553.61" width="25.51" height="25.51" fill="#8080ff"/>
<rect x="525.58" y="1553.61" width="25.51" height="25.51" fill="#3333ff"/>
<rect x="551.09" y="1553.61" width="25.51" height="25.51" fill="#4c4cff"/>
<rect x="576.6" y="1553.61" width="76.53" height="25.51" fill="#ffffff"/>
<rect x="653.13" y="1553.61" width="25.51" height="25.51" fill="#8080ff"/>
<rect x="193.95" y="1579.12" width="25.51" height="25.51" fill="#ff0000"/>
<rect x="219.46" y="1579.12" width="25.51" height="25.51" fill="#ff3333"/>
<rect x="244.97" y="1579.12" width="25.51" height="25.51" fill="#ff1a1a"/>
<rect x="270.48" y="1579.12" width="25.51" height="25.51" fill="#ff6666"/>
<rect x="295.99" y="1579.12" width="25.51" height="25.51" fill="#ff3333"/>
<rect x="321.5" y="1579.12" width="25.51" height="25.51" fill="#ff6666"/>
<rect x="347.01" y="1579.12" width="25.51" height="25.51" fill="#ff4c4c"/>
<rect x="372.52" y="1579.12" width="25.51" height="25.51" fill="#ff1a1a"/>
<rect x="398.03" y="1579.12" width="51.02" height="25.51" fill="#ff3333"/>
<rect x="449.05" y="1579.12" width="25.51" height="25.51" fill="#4c4cff"/>
<rect x="474.56" y="1579.12" width="51.02" height="25.51" fill="#6666ff"/>
<rect x="525.58" y="1579.12" width="25.51" height="25.51" fill="#3333ff"/>
<rect x="551.09" y="1579.12" width="25.51" height="25.51" fill="#0000ff"/>
<rect x="576.6" y="1579.12" width="25.51" height="25.51" fill="#9999ff"/>
<rect x="602.11" y="1579.12" width="51.02" height="25.51" fill="#b2b2ff"/>
<rect x="653.13" y="1579.12" width="25.51" height="25.51" fill="#9999ff"/>
<rect x="193.95" y="1604.62" width="25.51" height="25.51" fill="#ff0000"/>
<rect x="219.46" y="1604.62" width="51.02" height="25.51" fill="#ff4c4c"/>
<rect x="270.48" y="1604.62" width="25.51" height="25.51" fill="#ff8080"/>
<rect x="295.99" y="1604.62" width="25.51" height="25.51" fill="#ff3333"/>
<rect x="321.5" y="1604.62" width="25.51" height="25.51" fill="#ff8080"/>
<rect x="347.01" y="1604.62" width="25.51" height="25.51" fill="#ff6666"/>
<rect x="372.52" y="1604.62" width="51.02" height="25.51" fill="#ff1a1a"/>
<rect x="423.54" y="1604.62" width="25.51" height="25.51" fill="#ff3333"/>
<rect x="449.05" y="1604.62" width="25.51" height="25.51" fill="#3333ff"/>
<rect x="474.56" y="1604.62" width="51.02" height="25.51" fill="#4c4cff"/>
<rect x="525.58" y="1604.62" width="25.51" height="25.51" fill="#3333ff"/>
<rect x="551.09" y="1604.62" width="25.51" height="25.51" fill="#0000ff"/>
<rect x="576.6" y="1604.62" width="25.51" height="25.51" fill="#ccccff"/>
<rect x="602.11" y="1604.62" width="25.51" height="25.51" fill="#e6e6ff"/>
<rect x="627.62" y="1604.62" width="25.51" height="25.51" fill="#ccccff"/>
<rect x="653.13" y="1604.62" width="25.51" height="25.51" fill="#9999ff"/>
<rect x="193.95" y="1630.13" width="51.02" height="25.51" fill="#ff1a1a"/>
<rect x="244.97" y="1630.13" width="25.51" height="25.51" fill="#ff0000"/>
<rect x="270.48" y="1630.13" width="76.53" height="25.51" fill="#ff1a1a"/>
<rect x="347.01" y="1630.13" width="25.51" height="25.51" fill="#ff3333"/>
<rect x="372.52" y="1630.13" width="51.02" height="25.51" fill="#ff1a1a"/>
<rect x="423.54" y="1630.13" width="25.51" height="25.51" fill="#ff0000"/>
<rect x="449.05" y="1630.13" width="25.51" height="25.51" fill="#4c4cff"/>
<rect x="474.56" y="1630.13" width="25.51" height="25.51" fill="#9999ff"/>
<rect x="500.07" y="1630.13" width="25.51" height="25.51" fill="#b2b2ff"/>
<rect x="525.58" y="1630.13" width="25.51" height="25.51" fill="#0000ff"/>
<rect x="551.09" y="1630.13" width="25.51" height="25.51" fill="#6666ff"/>
<rect x="576.6" y="1630.13" width="25.51" height="25.51" fill="#ffe6e6"/>
<rect x="602.11" y="1630.13" width="25.51" height="25.51" fill="#ffffff"/>
<rect x="627.62" y="1630.13" width="51.02" height="25.51" fill="#b2b2ff"/>
<rect x="193.95" y="1655.64" width="51.02" height="25.51" fill="#ff1a1a"/>
<rect x="244.97" y="1655.64" width="25.51" height="25.51" fill="#ff0000"/>
<rect x="270.48" y="1655.64" width="76.53" height="25.51" fill="#ff1a1a"/>
<rect x="347.01" y="1655.64" width="25.51" height="25.51" fill="#ff3333"/>
<rect x="372.52" y="1655.64" width="51.02" height="25.51" fill="#ff1a1a"/>
<rect x="423.54" y="1655.64" width="25.51" height="25.51" fill="#ff0000"/>
<rect x="449.05" y="1655.64" width="25.51" height="25.51" fill="#9999ff"/>
<rect x="474.56" y="1655.64" width="25.51" height="25.51" fill="#8080ff"/>
<rect x="500.07" y="1655.64" width="25.51" height="25.51" fill="#9999ff"/>
<rect x="525.58" y="1655.64" width="25.51" height="25.51" fill="#0000ff"/>
<rect x="551.09" y="1655.64" width="25.51" height="25.51" fill="#3333ff"/>
<rect x="576.6" y="1655.64" width="25.51" height="25.51" fill="#6666ff"/>
<rect x="602.11" y="1655.64" width="25.51" height="25.51" fill="#8080ff"/>
<rect x="627.62" y="1655.64" width="25.51" height="25.51" fill="#3333ff"/>
<rect x="653.13" y="1655.64" width="25.51" height="25.51" fill="#6666ff"/>
<rect x="193.95" y="1681.14" width="51.02" height="25.51" fill="#ff4c4c"/>
<rect x="244.97" y="1681.14" width="25.51" height="25.51" fill="#ff1a1a"/>
<rect x="270.48" y="1681.14" width="25.51" height="25.51" fill="#ff3333"/>
<rect x="295.99" y="1681.14" width="25.51" height="25.51" fill="#ff1a1a"/>
<rect x="321.5" y="1681.14" width="25.51" height="25.51" fill="#ff3333"/>
<rect x="347.01" y="1681.14" width="76.53" height="25.51" fill="#ff1a1a"/>
<rect x="423.54" y="1681.14" width="25.51" height="25.51" fill="#ff0000"/>
<rect x="449.05" y="1681.14" width="25.51" height="25.51" fill="#8080ff"/>
<rect x="474.56" y="1681.14" width="51.02" height="25.51" fill="#6666ff"/>
<rect x="525.58" y="1681.14" width="25.51" height="25.51" fill="#1a1aff"/>
<rect x="551.09" y="1681.14" width="25.51" height="25.51" fill="#0000ff"/>
<rect x="576.6" y="1681.14" width="25.51" height="25.51" fill="#4c4cff"/>
<rect x="602.11" y="1681.14" width="25.51" height="25.51" fill="#8080ff"/>
<rect x="627.62" y="1681.14" width="25.51" height="25.51" fill="#3333ff"/>
<rect x="653.13" y="1681.14" width="25.51" height="25.51" fill="#4c4cff"/>
<rect x="193.95" y="1706.65" width="25.51" height="25.51" fill="#ff0000"/>
<rect x="219.46" y="1706.65" width="25.51" height="25.51" fill="#ff4c4c"/>
<rect x="244.97" y="1706.65" width="25.51" height="25.51" fill="#ff1a1a"/>
<rect x="270.48" y="1706.65" width="25.51" height="25.51" fill="#ff6666"/>
<rect x="295.99" y="1706.65" width="25.51" height="25.51" fill="#ff1a1a"/>
<rect x="321.5" y="1706.65" width="51.02" height="25.51" fill="#ff4c4c"/>
<rect x="372.52" y="1706.65" width="25.51" height="25.51" fill="#ff0000"/>
<rect x="398.03" y="1706.65" width="51.02" height="25.51" fill="#ff1a1a"/>
<rect x="449.05" y="1706.65" width="25.51" height="25.51" fill="#6666ff"/>
<rect x="474.56" y="1706.65" width="25.51" height="25.51" fill="#4c4cff"/>
<rect x="500.07" y="1706.65" width="25.51" height="25.51" fill="#6666ff"/>
<rect x="525.58" y="1706.65" width="25.51" height="25.51" fill="#1a1aff"/>
<rect x="551.09" y="1706.65" width="25.51" height="25.51" fill="#0000ff"/>
<rect x="576.6" y="1706.65" width="25.51" height="25.51" fill="#6666ff"/>
<rect x="602.11" y="1706.65" width="25.51" height="25.51" fill="#9999ff"/>
<rect x="627.62" y="1706.65" width="25.51" height="25.51" fill="#6666ff"/>
<rect x="653.13" y="1706.65" width="25.51" height="25.51" fill="#4c4cff"/>
<rect x="193.95" y="1732.15" width="25.51" height="25.51" fill="#ff1a1a"/>
<rect x="219.46" y="1732.15" width="25.51" height="25.51" fill="#ff4c4c"/>
<rect x="244.97" y="1732.15" width="51.02" height="25.51" fill="#ff3333"/>
<rect x="295.99" y="1732.15" width="25.51" height="25.51" fill="#ff1a1a"/>
<rect x="321.5" y="1732.15" width="25.51" height="25.51" fill="#ff4c4c"/>
<rect x="347.01" y="1732.15" width="25.51" height="25.51" fill="#ff3333"/>
<rect x="372.52" y="1732.15" width="25.51" height="25.51" fill="#ff1a1a"/>
<rect x="398.03" y="1732.15" width="51.02" height="25.51" fill="#ff0000"/>
<rect x="449.05" y="1732.15" width="25.51" height="25.51" fill="#9999ff"/>
<rect x="474.56" y="1732.15" width="25.51" height="25.51" fill="#8080ff"/>
<rect x="500.07" y="1732.15" width="25.51" height="25.51" fill="#6666ff"/>
<rect x="525.58" y="1732.15" width="25.51" height="25.51" fill="#0000ff"/>
<rect x="551.09" y="1732.15" width="25.51" height="25.51" fill="#4c4cff"/>
<rect x="576.6" y="1732.15" width="25.51" height="25.51" fill="#b2b2ff"/>
<rect x="602.11" y="1732.15" width="25.51" height="25.51" fill="#ccccff"/>
<rect x="627.62" y="1732.15" width="51.02" height="25.51" fill="#9999ff"/>
<rect x="193.95" y="1757.66" width="25.51" height="25.51" fill="#ff1a1a"/>
<rect x="219.46" y="1757.66" width="51.02" height="25.51" fill="#ff4c4c"/>
<rect x="270.48" y="1757.66" width="25.51" height="25.51" fill="#ff8080"/>
<rect x="295.99" y="1757.66" width="25.51" height="25.51" fill="#ff3333"/>
<rect x="321.5" y="1757.66" width="76.53" height="25.51" fill="#ff1a1a"/>
<rect x="398.03" y="1757.66" width="25.51" height="25.51" fill="#ff0000"/>
<rect x="423.54" y="1757.66" width="25.51" height="25.51" fill="#ff3333"/>
<rect x="449.05" y="1757.66" width="25.51" height="25.51" fill="#6666ff"/>
<rect x="474.56" y="1757.66" width="25.51" height="25.51" fill="#8080ff"/>
<rect x="500.07" y="1757.66" width="25.51" height="25.51" fill="#9999ff"/>
<rect x="525.58" y="1757.66" width="25.51" height="25.51" fill="#0000ff"/>
<rect x="551.09" y="1757.66" width="25.51" height="25.51" fill="#3333ff"/>
<rect x="576.6" y="1757.66" width="25.51" height="25.51" fill="#9999ff"/>
<rect x="602.11" y="1757.66" width="25.51" height="25.51" fill="#b2b2ff"/>
<rect x="627.62" y="1757.66" width="25.51" height="25.51" fill="#4c4cff"/>
<rect x="653.13" y="1757.66" width="25.51" height="25.51" fill="#8080ff"/>
<rect x="193.95" y="1783.17" width="25.51" height="25.51" fill="#ff3333"/>
<rect x="219.46" y="1783.17" width="25.51" height="25.51" fill="#ff4c4c"/>
<rect x="244.97" y="1783.17" width="25.51" height="25.51" fill="#ff3333"/>
<rect x="270.48" y="1783.17" width="51.02" height="25.51" fill="#ff6666"/>
<rect x="321.5" y="1783.17" width="25.51" height="25.51" fill="#ff0000"/>
<rect x="347.01" y="1783.17" width="25.51" height="25.51" fill="#ff4c4c"/>
<rect x="372.52" y="1783.17" width="25.51" height="25.51" fill="#ff3333"/>
<rect x="398.03" y="1783.17" width="25.51" height="25.51" fill="#ff4c4c"/>
<rect x="423.54" y="1783.17" width="25.51" height="25.51" fill="#ff6666"/>
<rect x="449.05" y="1783.17" width="25.51" height="25.51" fill="#ccccff"/>
<rect x="474.56" y="1783.17" width="25.51" height="25.51" fill="#b2b2ff"/>
<rect x="500.07" y="1783.17" width="25.51" height="25.51" fill="#9999ff"/>
<rect x="525.58" y="1783.17" width="25.51" height="25.51" fill="#4c4cff"/>
<rect x="551.09" y="1783.17" width="25.51" height="25.51" fill="#6666ff"/>
<rect x="576.6" y="1783.17" width="25.51" height="25.51" fill="#4c4cff"/>
<rect x="602.11" y="1783.17" width="25.51" height="25.51" fill="#9999ff"/>
<rect x="627.62" y="1783.17" width="25.51" height="25.51" fill="#0000ff"/>
<rect x="653.13" y="1783.17" width="25.51" height="25.51" fill="#6666ff"/>
<rect x="193.95" y="1808.67" width="51.02" height="25.51" fill="#ff6666"/>
<rect x="244.97" y="1808.67" width="51.02" height="25.51" fill="#ff3333"/>
<rect x="295.99" y="1808.67" width="25.51" height="25.51" fill="#ff4c4c"/>
<rect x="321.5" y="1808.67" width="25.51" height="25.51" fill="#ff0000"/>
<rect x="347.01" y="1808.67" width="51.02" height="25.51" fill="#ff6666"/>
<rect x="398.03" y="1808.67" width="51.02" height="25.51" fill="#ff4c4c"/>
<rect x="449.05" y="1808.67" width="25.51" height="25.51" fill="#ffffff"/>
<rect x="474.56" y="1808.67" width="51.02" height="25.51" fill="#ccccff"/>
<rect x="525.58" y="1808.67" width="51.02" height="25.51" fill="#4c4cff"/>
<rect x="576.6" y="1808.67" width="25.51" height="25.51" fill="#6666ff"/>
<rect x="602.11" y="1808.67" width="25.51" height="25.51" fill="#9999ff"/>
<rect x="627.62" y="1808.67" width="25.51" height="25.51" fill="#0000ff"/>
<rect x="653.13" y="1808.67" width="25.51" height="25.51" fill="#3333ff"/>
<rect x="193.95" y="1834.18" width="51.02" height="25.51" fill="#ff6666"/>
<rect x="244.97" y="1834.18" width="25.51" height="25.51" fill="#ff3333"/>
<rect x="270.48" y="1834.18" width="25.51" height="25.51" fill="#ff4c4c"/>
<rect x="295.99" y="1834.18" width="25.51" height="25.51" fill="#ff3333"/>
<rect x="321.5" y="1834.18" width="25.51" height="25.51" fill="#ff0000"/>
<rect x="347.01" y="1834.18" width="102.04" height="25.51" fill="#ff4c4c"/>
<rect x="449.05" y="1834.18" width="25.51" height="25.51" fill="#ccccff"/>
<rect x="474.56" y="1834.18" width="51.02" height="25.51" fill="#b2b2ff"/>
<rect x="525.58" y="1834.18" width="25.51" height="25.51" fill="#3333ff"/>
<rect x="551.09" y="1834.18" width="51.02" height="25.51" fill="#4c4cff"/>
<rect x="602.11" y="1834.18" width="25.51" height="25.51" fill="#8080ff"/>
<rect x="627.62" y="1834.18" width="25.51" height="25.51" fill="#0000ff"/>
<rect x="653.13" y="1834.18" width="25.51" height="25.51" fill="#3333ff"/>
<rect x="193.95" y="1859.68" width="76.53" height="25.51" fill="#ff6666"/>
<rect x="270.48" y="1859.68" width="25.51" height="25.51" fill="#ff8080"/>
<rect x="295.99" y="1859.68" width="25.51" height="25.51" fill="#ff6666"/>
<rect x="321.5" y="1859.68" width="25.51" height="25.51" fill="#ff0000"/>
<rect x="347.01" y="1859.68" width="25.51" height="25.51" fill="#ff8080"/>
<rect x="372.52" y="1859.68" width="51.02" height="25.51" fill="#ff6666"/>
<rect x="423.54" y="1859.68" width="25.51" height="25.51" fill="#ff8080"/>
<rect x="449.05" y="1859.68" width="25.51" height="25.51" fill="#ccccff"/>
<rect x="474.56" y="1859.68" width="25.51" height="25.51" fill="#b2b2ff"/>
<rect x="500.07" y="1859.68" width="25.51" height="25.51" fill="#ccccff"/>
<rect x="525.58" y="1859.68" width="25.51" height="25.51" fill="#3333ff"/>
<rect x="551.09" y="1859.68" width="51.02" height="25.51" fill="#4c4cff"/>
<rect x="602.11" y="1859.68" width="25.51" height="25.51" fill="#8080ff"/>
<rect x="627.62" y="1859.68" width="25.51" height="25.51" fill="#0000ff"/>
<rect x="653.13" y="1859.68" width="25.51" height="25.51" fill="#3333ff"/>
<rect x="193.95" y="1885.19" width="51.02" height="25.51" fill="#ff1a1a"/>
<rect x="244.97" y="1885.19" width="25.51" height="25.51" fill="#ff0000"/>
<rect x="270.48" y="1885.19" width="25.51" height="25.51" fill="#ff1a1a"/>
<rect x="295.99" y="1885.19" width="25.51" height="25.51" fill="#ff0000"/>
<rect x="321.5" y="1885.19" width="25.51" height="25.51" fill="#ff1a1a"/>
<rect x="347.01" y="1885.19" width="76.53" height="25.51" fill="#ff0000"/>
<rect x="423.54" y="1885.19" width="25.51" height="25.51" fill="#ff1a1a"/>
<rect x="449.05" y="1885.19" width="25.51" height="25.51" fill="#b2b2ff"/>
<rect x="474.56" y="1885.19" width="25.51" height="25.51" fill="#9999ff"/>
<rect x="500.07" y="1885.19" width="25.51" height="25.51" fill="#b2b2ff"/>
<rect x="525.58" y="1885.19" width="51.02" height="25.51" fill="#3333ff"/>
<rect x="576.6" y="1885.19" width="25.51" height="25.51" fill="#6666ff"/>
<rect x="602.11" y="1885.19" width="25.51" height="25.51" fill="#8080ff"/>
<rect x="627.62" y="1885.19" width="25.51" height="25.51" fill="#0000ff"/>
<rect x="653.13" y="1885.19" width="25.51" height="25.51" fill="#3333ff"/>
<rect x="193.95" y="1910.7" width="51.02" height="25.51" fill="#ff1a1a"/>
<rect x="244.97" y="1910.7" width="25.51" height="25.51" fill="#ff0000"/>
<rect x="270.48" y="1910.7" width="25.51" height="25.51" fill="#ff3333"/>
<rect x="295.99" y="1910.7" width="102.04" height="25.51" fill="#ff1a1a"/>
<rect x="398.03" y="1910.7" width="25.51" height="25.51" fill="#ff0000"/>
<rect x="423.54" y="1910.7" width="25.51" height="25.51" fill="#ff3333"/>
<rect x="449.05" y="1910.7" width="25.51" height="25.51" fill="#ccccff"/>
<rect x="474.56" y="1910.7" width="51.02" height="25.51" fill="#b2b2ff"/>
<rect x="525.58" y="1910.7" width="51.02" height="25.51" fill="#4c4cff"/>
<rect x="576.6" y="1910.7" width="25.51" height="25.51" fill="#6666ff"/>
<rect x="602.11" y="1910.7" width="25.51" height="25.51" fill="#9999ff"/>
<rect x="627.62" y="1910.7" width="25.51" height="25.51" fill="#0000ff"/>
<rect x="653.13" y="1910.7" width="25.51" height="25.51" fill="#4c4cff"/>
<rect x="193.95" y="1936.2" width="25.51" height="25.51" fill="#ff1a1a"/>
<rect x="219.46" y="1936.2" width="25.51" height="25.51" fill="#ff3333"/>
<rect x="244.97" y="1936.2" width="25.51" height="25.51" fill="#ff0000"/>
<rect x="270.48" y="1936.2" width="25.51" height="25.51" fill="#ff3333"/>
<rect x="295.99" y="1936.2" width="25.51" height="25.51" fill="#ff1a1a"/>
<rect x="321.5" y="1936.2" width="51.02" height="25.51" fill="#ff3333"/>
<rect x="372.52" y="1936.2" width="25.51" height="25.51" fill="#ff0000"/>
<rect x="398.03" y="1936.2" width="25.51" height="25.51" fill="#ff1a1a"/>
<rect x="423.54" y="1936.2" width="25.51" height="25.51" fill="#ff3333"/>
<rect x="449.05" y="1936.2" width="25.51" height="25.51" fill="#b2b2ff"/>
<rect x="474.56" y="1936.2" width="25.51" height="25.51" fill="#9999ff"/>
<rect x="500.07" y="1936.2" width="25.51" height="25.51" fill="#ccccff"/>
<rect x="525.58" y="1936.2" width="25.51" height="25.51" fill="#8080ff"/>
<rect x="551.09" y="1936.2" width="25.51" height="25.51" fill="#4c4cff"/>
<rect x="576.6" y="1936.2" width="25.51" height="25.51" fill="#3333ff"/>
<rect x="602.11" y="1936.2" width="25.51" height="25.51" fill="#8080ff"/>
<rect x="627.62" y="1936.2" width="25.51" height="25.51" fill="#0000ff"/>
<rect x="653.13" y="1936.2" width="25.51" height="25.51" fill="#3333ff"/>
<rect x="193.95" y="1961.71" width="25.51" height="25.51" fill="#ff8080"/>
<rect x="219.46" y="1961.71" width="25.51" height="25.51" fill="#ff9999"/>
<rect x="244.97" y="1961.71" width="76.53" height="25.51" fill="#ff8080"/>
<rect x="321.5" y="1961.71" width="25.51" height="25.51" fill="#ff0000"/>
<rect x="347.01" y="1961.71" width="25.51" height="25.51" fill="#ff4c4c"/>
<rect x="372.52" y="1961.71" width="76.53" height="25.51" fill="#ff8080"/>
<rect x="449.05" y="1961.71" width="25.51" height="25.51" fill="#ccccff"/>
<rect x="474.56" y="1961.71" width="25.51" height="25.51" fill="#b2b2ff"/>
<rect x="500.07" y="1961.71" width="25.51" height="25.51" fill="#9999ff"/>
<rect x="525.58" y="1961.71" width="51.02" height="25.51" fill="#6666ff"/>
<rect x="576.6" y="1961.71" width="25.51" height="25.51" fill="#4c4cff"/>
<rect x="602.11" y="1961.71" width="25.51" height="25.51" fill="#8080ff"/>
<rect x="627.62" y="1961.71" width="25.51" height="25.51" fill="#0000ff"/>
<rect x="653.13" y="1961.71" width="25.51" height="25.51" fill="#3333ff"/>
<rect x="193.95" y="1987.21" width="25.51" height="25.51" fill="#ff9999"/>
<rect x="219.46" y="1987.21" width="25.51" height="25.51" fill="#ff8080"/>
<rect x="244.97" y="1987.21" width="25.51" height="25.51" fill="#ff6666"/>
<rect x="270.48" y="1987.21" width="25.51" height="25.51" fill="#ff4c4c"/>
<rect x="295.99" y="1987.21" width="25.51" height="25.51" fill="#ff6666"/>
<rect x="321.5" y="1987.21" width="25.51" height="25.51" fill="#ff0000"/>
<rect x="347.01" y="1987.21" width="25.51" height="25.51" fill="#ff4c4c"/>
<rect x="372.52" y="1987.21" width="76.53" height="25.51" fill="#ff8080"/>
<rect x="449.05" y="1987.21" width="76.53" height="25.51" fill="#8080ff"/>
<rect x="525.58" y="1987.21" width="25.51" height="25.51" fill="#3333ff"/>
<rect x="551.09" y="1987.21" width="25.51" height="25.51" fill="#4c4cff"/>
<rect x="576.6" y="1987.21" width="51.02" height="25.51" fill="#3333ff"/>
<rect x="627.62" y="1987.21" width="25.51" height="25.51" fill="#0000ff"/>
<rect x="653.13" y="1987.21" width="25.51" height="25.51" fill="#1a1aff"/>
<rect x="193.95" y="2012.72" width="25.51" height="25.51" fill="#ff6666"/>
<rect x="219.46" y="2012.72" width="25.51" height="25.51" fill="#ffb2b2"/>
<rect x="244.97" y="2012.72" width="25.51" height="25.51" fill="#ff8080"/>
<rect x="270.48" y="2012.72" width="25.51" height="25.51" fill="#ffb2b2"/>
<rect x="295.99" y="2012.72" width="25.51" height="25.51" fill="#ff6666"/>
<rect x="321.5" y="2012.72" width="25.51" height="25.51" fill="#ff0000"/>
<rect x="347.01" y="2012.72" width="25.51" height="25.51" fill="#ff9999"/>
<rect x="372.52" y="2012.72" width="25.51" height="25.51" fill="#ff6666"/>
<rect x="398.03" y="2012.72" width="25.51" height="25.51" fill="#ff4c4c"/>
<rect x="423.54" y="2012.72" width="25.51" height="25.51" fill="#ff6666"/>
<rect x="449.05" y="2012.72" width="76.53" height="25.51" fill="#e6e6ff"/>
<rect x="525.58" y="2012.72" width="25.51" height="25.51" fill="#8080ff"/>
<rect x="551.09" y="2012.72" width="25.51" height="25.51" fill="#9999ff"/>
<rect x="576.6" y="2012.72" width="25.51" height="25.51" fill="#8080ff"/>
<rect x="602.11" y="2012.72" width="25.51" height="25.51" fill="#b2b2ff"/>
<rect x="627.62" y="2012.72" width="25.51" height="25.51" fill="#0000ff"/>
<rect x="653.13" y="2012.72" width="25.51" height="25.51" fill="#8080ff"/>
</g>
<path class="gr" stroke-width="1.65" d="M193.95 226.48V2039.05M219.46 226.48V2039.05M244.97 226.48V2039.05M270.48 226.48V2039.05M295.99 226.48V2039.05M321.5 226.48V2039.05M347.01 226.48V2039.05M372.52 226.48V2039.05M398.03 226.48V2039.05M423.54 226.48V2039.05M449.05 226.48V2039.05M474.56 226.48V2039.05M500.07 226.48V2039.05M525.58 226.48V2039.05M551.09 226.48V2039.05M576.6 226.48V2039.05M602.11 226.48V2039.05M627.62 226.48V2039.05M653.13 226.48V2039.05M678.64 226.48V2039.05M193.12 227.3H679.47M193.12 252.81H679.47M193.12 278.31H679.47M193.12 303.82H679.47M193.12 329.32H679.47M193.12 354.83H679.47M193.12 380.34H679.47M193.12 405.84H679.47M193.12 431.35H679.47M193.12 456.85H679.47M193.12 482.36H679.47M193.12 507.87H679.47M193.12 533.37H679.47M193.12 558.88H679.47M193.12 584.38H679.47M193.12 609.89H679.47M193.12 635.4H679.47M193.12 660.9H679.47M193.12 686.41H679.47M193.12 711.91H679.47M193.12 737.42H679.47M193.12 762.93H679.47M193.12 788.43H679.47M193.12 813.94H679.47M193.12 839.44H679.47M193.12 864.95H679.47M193.12 890.46H679.47M193.12 915.96H679.47M193.12 941.47H679.47M193.12 966.97H679.47M193.12 992.48H679.47M193.12 1017.99H679.47M193.12 1043.49H679.47M193.12 1069H679.47M193.12 1094.5H679.47M193.12 1120.01H679.47M193.12 1145.52H679.47M193.12 1171.02H679.47M193.12 1196.53H679.47M193.12 1222.03H679.47M193.12 1247.54H679.47M193.12 1273.05H679.47M193.12 1298.55H679.47M193.12 1324.06H679.47M193.12 1349.56H679.47M193.12 1375.07H679.47M193.12 1400.58H679.47M193.12 1426.08H679.47M193.12 1451.59H679.47M193.12 1477.09H679.47M193.12 1502.6H679.47M193.12 1528.11H679.47M193.12 1553.61H679.47M193.12 1579.12H679.47M193.12 1604.62H679.47M193.12 1630.13H679.47M193.12 1655.64H679.47M193.12 1681.14H679.47M193.12 1706.65H679.47M193.12 1732.15H679.47M193.12 1757.66H679.47M193.12 1783.17H679.47M193.12 1808.67H679.47M193.12 1834.18H679.47M193.12 1859.68H679.47M193.12 1885.19H679.47M193.12 1910.7H679.47M193.12 1936.2H679.47M193.12 1961.71H679.47M193.12 1987.21H679.47M193.12 2012.72H679.47M193.12 2038.23H679.47"/>
<text class="ac" transform="translate(217.3 214.6) rotate(-90) scale(1 1.04)">WT-CD</text>
<text class="ac" transform="translate(242.81 214.6) rotate(-90) scale(1 1.04)">WT-CD</text>
<text class="ac" transform="translate(268.33 214.6) rotate(-90) scale(1 1.04)">WT-CD</text>
<text class="ac" transform="translate(293.84 214.6) rotate(-90) scale(1 1.04)">WT-CD</text>
<text class="ac" transform="translate(319.35 214.6) rotate(-90) scale(1 1.04)">WT-CD</text>
<text class="ac" transform="translate(344.86 214.6) rotate(-90) scale(1 1.04)">LAKO-CD</text>
<text class="ac" transform="translate(370.37 214.6) rotate(-90) scale(1 1.04)">LAKO-CD</text>
<text class="ac" transform="translate(395.88 214.6) rotate(-90) scale(1 1.04)">LAKO-CD</text>
<text class="ac" transform="translate(421.38 214.6) rotate(-90) scale(1 1.04)">LAKO-CD</text>
<text class="ac" transform="translate(446.9 214.6) rotate(-90) scale(1 1.04)">LAKO-CD</text>
<text class="ac" transform="translate(472.41 214.6) rotate(-90) scale(1 1.04)">WT-HFrD</text>
<text class="ac" transform="translate(497.92 214.6) rotate(-90) scale(1 1.04)">WT-HFrD</text>
<text class="ac" transform="translate(523.43 214.6) rotate(-90) scale(1 1.04)">WT-HFrD</text>
<text class="ac" transform="translate(548.94 214.6) rotate(-90) scale(1 1.04)">WT-HFrD</text>
<text class="ac" transform="translate(574.45 214.6) rotate(-90) scale(1 1.04)">WT-HFrD</text>
<text class="ac" transform="translate(599.96 214.6) rotate(-90) scale(1 1.04)">LAKO-HFrD</text>
<text class="ac" transform="translate(625.47 214.6) rotate(-90) scale(1 1.04)">LAKO-HFrD</text>
<text class="ac" transform="translate(650.98 214.6) rotate(-90) scale(1 1.04)">LAKO-HFrD</text>
<text class="ac" transform="translate(676.49 214.6) rotate(-90) scale(1 1.04)">LAKO-HFrD</text>
<text class="ar" transform="translate(691.2 251.15) scale(1 1)">(44:3)</text>
<text class="ar" transform="translate(691.2 276.66) scale(1 1)">(46:3)</text>
<text class="ar" transform="translate(691.2 302.17) scale(1 1)">(48:4)</text>
<text class="ar" transform="translate(691.2 327.67) scale(1 1)">(50:4)</text>
<text class="ar" transform="translate(691.2 353.18) scale(1 1)">(42:2)</text>
<text class="ar" transform="translate(691.2 378.68) scale(1 1)">(44:2)</text>
<text class="ar" transform="translate(691.2 404.19) scale(1 1)">(46:2)</text>
<text class="ar" transform="translate(691.2 429.7) scale(1 1)">(48:3)</text>
<text class="ar" transform="translate(691.2 455.2) scale(1 1)">(42:0)</text>
<text class="ar" transform="translate(691.2 480.71) scale(1 1)">(44:0)</text>
<text class="ar" transform="translate(691.2 506.21) scale(1 1)">(46:0)</text>
<text class="ar" transform="translate(691.2 531.72) scale(1 1)">(48:1)</text>
<text class="ar" transform="translate(691.2 557.23) scale(1 1)">(42:1)</text>
<text class="ar" transform="translate(691.2 582.73) scale(1 1)">(44:1)</text>
<text class="ar" transform="translate(691.2 608.24) scale(1 1)">(46:1)</text>
<text class="ar" transform="translate(691.2 633.74) scale(1 1)">(48:2)</text>
<text class="ar" transform="translate(691.2 659.25) scale(1 1)">(50:2)</text>
<text class="ar" transform="translate(691.2 684.75) scale(1 1)">(50:3)</text>
<text class="ar" transform="translate(691.2 710.26) scale(1 1)">(54:3)</text>
<text class="ar" transform="translate(691.2 735.77) scale(1 1)">(54:2)</text>
<text class="ar" transform="translate(691.2 761.27) scale(1 1)">(56:3)</text>
<text class="ar" transform="translate(691.2 786.78) scale(1 1)">(58:5)</text>
<text class="ar" transform="translate(691.2 812.28) scale(1 1)">(52:1)</text>
<text class="ar" transform="translate(691.2 837.79) scale(1 1)">(50:1)</text>
<text class="ar" transform="translate(691.2 863.3) scale(1 1)">(54:4)</text>
<text class="ar" transform="translate(691.2 888.8) scale(1 1)">(54:1)</text>
<text class="ar" transform="translate(691.2 914.31) scale(1 1)">(56:1)</text>
<text class="ar" transform="translate(691.2 939.81) scale(1 1)">(58:1)</text>
<text class="ar" transform="translate(691.2 965.32) scale(1 1)">(56:4)</text>
<text class="ar" transform="translate(691.2 990.83) scale(1 1)">(56:2)</text>
<text class="ar" transform="translate(691.2 1016.33) scale(1 1)">(58:2)</text>
<text class="ar" transform="translate(691.2 1041.84) scale(1 1)">(60:2)</text>
<text class="ar" transform="translate(691.2 1067.35) scale(1 1)">(58:3)</text>
<text class="ar" transform="translate(691.2 1092.85) scale(1 1)">(58:4)</text>
<text class="ar" transform="translate(691.2 1118.36) scale(1 1)">(60:3)</text>
<text class="ar" transform="translate(691.2 1143.86) scale(1 1)">(60:5)</text>
<text class="ar" transform="translate(691.2 1169.37) scale(1 1)">(60:1)</text>
<text class="ar" transform="translate(691.2 1194.88) scale(1 1)">(60:4)</text>
<text class="ar" transform="translate(691.2 1220.38) scale(1 1)">(48:0)</text>
<text class="ar" transform="translate(691.2 1245.89) scale(1 1)">(50:0)</text>
<text class="ar" transform="translate(691.2 1271.39) scale(1 1)">(52:2)</text>
<text class="ar" transform="translate(691.2 1296.9) scale(1 1)">(52:3)</text>
<text class="ar" transform="translate(691.2 1322.4) scale(1 1)">(52:4)</text>
<text class="ar" transform="translate(691.2 1347.91) scale(1 1)">(60:6)</text>
<text class="ar" transform="translate(691.2 1373.42) scale(1 1)">(50:5)</text>
<text class="ar" transform="translate(691.2 1398.92) scale(1 1)">(50:6)</text>
<text class="ar" transform="translate(691.2 1424.43) scale(1 1)">(52:6)</text>
<text class="ar" transform="translate(691.2 1449.93) scale(1 1)">(52:5)</text>
<text class="ar" transform="translate(691.2 1475.44) scale(1 1)">(54:6)</text>
<text class="ar" transform="translate(691.2 1500.95) scale(1 1)">(54:5)</text>
<text class="ar" transform="translate(691.2 1526.45) scale(1 1)">(56:5)</text>
<text class="ar" transform="translate(691.2 1551.96) scale(1 1)">(52:7)</text>
<text class="ar" transform="translate(691.2 1577.46) scale(1 1)">(52:8)</text>
<text class="ar" transform="translate(691.2 1602.97) scale(1 1)">(54:7)</text>
<text class="ar" transform="translate(691.2 1628.48) scale(1 1)">(54:8)</text>
<text class="ar" transform="translate(691.2 1653.98) scale(1 1)">(56:6)</text>
<text class="ar" transform="translate(691.2 1679.49) scale(1 1)">(56:7)</text>
<text class="ar" transform="translate(691.2 1704.99) scale(1 1)">(58:10)</text>
<text class="ar" transform="translate(691.2 1730.5) scale(1 1)">(56:9)</text>
<text class="ar" transform="translate(691.2 1756.01) scale(1 1)">(58:11)</text>
<text class="ar" transform="translate(691.2 1781.51) scale(1 1)">(58:6)</text>
<text class="ar" transform="translate(691.2 1807.02) scale(1 1)">(58:7)</text>
<text class="ar" transform="translate(691.2 1832.52) scale(1 1)">(58:8)</text>
<text class="ar" transform="translate(691.2 1858.03) scale(1 1)">(58:9)</text>
<text class="ar" transform="translate(691.2 1883.54) scale(1 1)">(60:10)</text>
<text class="ar" transform="translate(691.2 1909.04) scale(1 1)">(56:8)</text>
<text class="ar" transform="translate(691.2 1934.55) scale(1 1)">(60:11)</text>
<text class="ar" transform="translate(691.2 1960.05) scale(1 1)">(60:12)</text>
<text class="ar" transform="translate(691.2 1985.56) scale(1 1)">(60:8)</text>
<text class="ar" transform="translate(691.2 2011.07) scale(1 1)">(60:9)</text>
<text class="ar" transform="translate(691.2 2036.57) scale(1 1)">(60:7)</text>
<path class="dn" d="M182.8 240.05H179.1V265.56H182.8M182.8 291.06H181.1V316.57H182.8M179.1 252.81H172.6V303.82H181.1M182.8 367.58H180.9V393.09H182.8M180.9 380.34H180V418.6H182.8M182.8 342.08H167.6V393.09H180M182.8 469.61H180.3V495.11H182.8M180.3 482.36H179.7V520.62H182.8M182.8 546.12H181.7V571.63H182.8M182.8 597.14H182.2V622.64H182.8M182.2 609.89H181.7V648.15H182.8M181.7 622.64H181.1V673.65H182.8M181.7 558.88H178.3V635.4H181.1M179.7 495.11H175.4V609.89H178.3M182.8 724.67H180.2V750.17H182.8M180.2 737.42H177.7V775.68H182.8M182.8 699.16H176.9V750.17H177.7M175.4 571.63H173.2V737.42H176.9M182.8 444.1H168.4V622.64H173.2M168.4 609.89H167.5V801.18H182.8M167.6 380.34H162.4V622.64H167.5M162.4 571.63H151.5V826.69H182.8M172.6 278.31H135.6V584.38H151.5M182.8 903.21H180.5V928.71H182.8M182.8 877.7H177.4V915.96H180.5M182.8 979.73H181.9V1005.23H182.8M181.9 992.48H180.5V1030.74H182.8M182.8 1056.25H182.2V1081.75H182.8M182.2 1069H181.9V1107.26H182.8M181.9 1081.75H181.1V1132.76H182.8M180.5 1005.23H178.8V1094.5H181.1M182.8 954.22H176.4V1056.24H178.8M182.8 1158.27H174.9V1183.78H182.8M176.4 1043.49H172.4V1171.02H174.9M177.4 903.21H166.4V1069H172.4M182.8 852.2H157.6V1030.74H166.4M135.6 533.37H122.5V1017.99H157.6M182.8 1209.28H129.5V1234.79H182.8M182.8 1260.29H144.3V1285.8H182.8M144.3 1273.05H121.6V1311.31H182.8M129.5 1222.03H104.4V1285.8H121.6M104.4 1260.29H95V1336.81H182.8M182.8 1387.82H181.2V1413.33H182.8M181.2 1400.58H178.5V1438.84H182.8M178.5 1413.33H169V1464.34H182.8M182.8 1362.32H157.8V1426.08H169M182.8 1489.85H162.4V1515.35H182.8M182.8 1540.86H180V1566.37H182.8M182.8 1591.87H181.9V1617.38H182.8M180 1553.61H179.4V1604.62H181.9M182.8 1668.39H182.2V1693.89H182.8M182.2 1681.14H181.7V1719.4H182.8M181.7 1693.89H181.4V1744.91H182.8M181.4 1706.65H180.9V1770.41H182.8M182.8 1642.88H178.8V1719.4H180.9M182.8 1821.42H182.2V1846.93H182.8M182.8 1795.92H181.4V1834.18H182.2M181.4 1821.42H181.9V1872.44H182.8M182.8 1897.94H182.4V1923.45H182.8M182.4 1910.7H181.9V1948.95H182.8M181.9 1834.18H181.1V1923.45H181.9M182.8 1974.46H181.7V1999.97H182.8M181.1 1872.44H180.3V1987.21H181.7M180.3 1897.94H176.7V2025.47H182.8M178.8 1706.65H175.7V1910.7H176.7M179.4 1579.12H166.6V1834.18H175.7M162.4 1502.6H139.8V1783.17H166.6M157.8 1413.33H117.2V1757.66H139.8M95 1273.05H79.7V1693.89H117.2M122.5 711.91H0.8V1617.38H79.7"/>
<text class="lg" x="806.5" y="256.5">row max</text>
<rect x="838.3" y="271.1" width="26.3" height="452" fill="url(#gv)" stroke="#000" stroke-width="1.4"/>
<text class="lg" x="810.2" y="752.6">row min</text>
<g id="heat-b" shape-rendering="crispEdges">
<rect x="1173" y="330.7" width="36.27" height="36.26" fill="#ff0000"/>
<rect x="1209.27" y="330.7" width="36.27" height="36.26" fill="#ff9999"/>
<rect x="1245.54" y="330.7" width="36.27" height="36.26" fill="#ffffff"/>
<rect x="1281.81" y="330.7" width="36.27" height="36.26" fill="#ccccff"/>
<rect x="1318.08" y="330.7" width="36.27" height="36.26" fill="#b2b2ff"/>
<rect x="1354.35" y="330.7" width="36.27" height="36.26" fill="#ffb2b2"/>
<rect x="1390.62" y="330.7" width="36.27" height="36.26" fill="#ff4c4c"/>
<rect x="1426.89" y="330.7" width="36.27" height="36.26" fill="#ff8080"/>
<rect x="1463.16" y="330.7" width="36.27" height="36.26" fill="#b2b2ff"/>
<rect x="1499.43" y="330.7" width="72.54" height="36.26" fill="#ccccff"/>
<rect x="1571.97" y="330.7" width="72.54" height="36.26" fill="#ff6666"/>
<rect x="1644.51" y="330.7" width="36.27" height="36.26" fill="#ff1a1a"/>
<rect x="1680.78" y="330.7" width="36.27" height="36.26" fill="#ffcccc"/>
<rect x="1717.05" y="330.7" width="36.27" height="36.26" fill="#ccccff"/>
<rect x="1753.32" y="330.7" width="36.27" height="36.26" fill="#0000ff"/>
<rect x="1789.59" y="330.7" width="36.27" height="36.26" fill="#6666ff"/>
<rect x="1825.86" y="330.7" width="36.27" height="36.26" fill="#ff4c4c"/>
<rect x="1173" y="366.96" width="36.27" height="36.26" fill="#3333ff"/>
<rect x="1209.27" y="366.96" width="72.54" height="36.26" fill="#1a1aff"/>
<rect x="1281.81" y="366.96" width="36.27" height="36.26" fill="#0000ff"/>
<rect x="1318.08" y="366.96" width="72.54" height="36.26" fill="#1a1aff"/>
<rect x="1390.62" y="366.96" width="36.27" height="36.26" fill="#0000ff"/>
<rect x="1426.89" y="366.96" width="36.27" height="36.26" fill="#1a1aff"/>
<rect x="1463.16" y="366.96" width="72.54" height="36.26" fill="#0000ff"/>
<rect x="1535.7" y="366.96" width="36.27" height="36.26" fill="#ffb2b2"/>
<rect x="1571.97" y="366.96" width="36.27" height="36.26" fill="#ff6666"/>
<rect x="1608.24" y="366.96" width="36.27" height="36.26" fill="#ff9999"/>
<rect x="1644.51" y="366.96" width="36.27" height="36.26" fill="#ff0000"/>
<rect x="1680.78" y="366.96" width="36.27" height="36.26" fill="#ff9999"/>
<rect x="1717.05" y="366.96" width="72.54" height="36.26" fill="#ccccff"/>
<rect x="1789.59" y="366.96" width="36.27" height="36.26" fill="#9999ff"/>
<rect x="1825.86" y="366.96" width="36.27" height="36.26" fill="#ffcccc"/>
<rect x="1173" y="403.22" width="36.27" height="36.26" fill="#3333ff"/>
<rect x="1209.27" y="403.22" width="72.54" height="36.26" fill="#1a1aff"/>
<rect x="1281.81" y="403.22" width="145.08" height="36.26" fill="#0000ff"/>
<rect x="1426.89" y="403.22" width="36.27" height="36.26" fill="#1a1aff"/>
<rect x="1463.16" y="403.22" width="72.54" height="36.26" fill="#0000ff"/>
<rect x="1535.7" y="403.22" width="36.27" height="36.26" fill="#ccccff"/>
<rect x="1571.97" y="403.22" width="36.27" height="36.26" fill="#ff9999"/>
<rect x="1608.24" y="403.22" width="36.27" height="36.26" fill="#ffcccc"/>
<rect x="1644.51" y="403.22" width="36.27" height="36.26" fill="#ff0000"/>
<rect x="1680.78" y="403.22" width="36.27" height="36.26" fill="#ffb2b2"/>
<rect x="1717.05" y="403.22" width="36.27" height="36.26" fill="#ff8080"/>
<rect x="1753.32" y="403.22" width="36.27" height="36.26" fill="#ffb2b2"/>
<rect x="1789.59" y="403.22" width="72.54" height="36.26" fill="#ff9999"/>
<rect x="1173" y="439.48" width="36.27" height="36.26" fill="#4c4cff"/>
<rect x="1209.27" y="439.48" width="72.54" height="36.26" fill="#1a1aff"/>
<rect x="1281.81" y="439.48" width="36.27" height="36.26" fill="#0000ff"/>
<rect x="1318.08" y="439.48" width="36.27" height="36.26" fill="#1a1aff"/>
<rect x="1354.35" y="439.48" width="72.54" height="36.26" fill="#0000ff"/>
<rect x="1426.89" y="439.48" width="36.27" height="36.26" fill="#3333ff"/>
<rect x="1463.16" y="439.48" width="72.54" height="36.26" fill="#1a1aff"/>
<rect x="1535.7" y="439.48" width="36.27" height="36.26" fill="#3333ff"/>
<rect x="1571.97" y="439.48" width="72.54" height="36.26" fill="#6666ff"/>
<rect x="1644.51" y="439.48" width="36.27" height="36.26" fill="#e6e6ff"/>
<rect x="1680.78" y="439.48" width="36.27" height="36.26" fill="#6666ff"/>
<rect x="1717.05" y="439.48" width="36.27" height="36.26" fill="#ff9999"/>
<rect x="1753.32" y="439.48" width="36.27" height="36.26" fill="#ffe6e6"/>
<rect x="1789.59" y="439.48" width="36.27" height="36.26" fill="#ff0000"/>
<rect x="1825.86" y="439.48" width="36.27" height="36.26" fill="#ffffff"/>
<rect x="1173" y="475.74" width="36.27" height="36.26" fill="#ff0000"/>
<rect x="1209.27" y="475.74" width="36.27" height="36.26" fill="#ffe6e6"/>
<rect x="1245.54" y="475.74" width="36.27" height="36.26" fill="#ffb2b2"/>
<rect x="1281.81" y="475.74" width="36.27" height="36.26" fill="#b2b2ff"/>
<rect x="1318.08" y="475.74" width="36.27" height="36.26" fill="#ff6666"/>
<rect x="1354.35" y="475.74" width="36.27" height="36.26" fill="#ffffff"/>
<rect x="1390.62" y="475.74" width="36.27" height="36.26" fill="#ffe6e6"/>
<rect x="1426.89" y="475.74" width="36.27" height="36.26" fill="#ff3333"/>
<rect x="1463.16" y="475.74" width="72.54" height="36.26" fill="#ff6666"/>
<rect x="1535.7" y="475.74" width="36.27" height="36.26" fill="#6666ff"/>
<rect x="1571.97" y="475.74" width="36.27" height="36.26" fill="#ffcccc"/>
<rect x="1608.24" y="475.74" width="36.27" height="36.26" fill="#ff4c4c"/>
<rect x="1644.51" y="475.74" width="36.27" height="36.26" fill="#9999ff"/>
<rect x="1680.78" y="475.74" width="36.27" height="36.26" fill="#e6e6ff"/>
<rect x="1717.05" y="475.74" width="36.27" height="36.26" fill="#ccccff"/>
<rect x="1753.32" y="475.74" width="36.27" height="36.26" fill="#0000ff"/>
<rect x="1789.59" y="475.74" width="36.27" height="36.26" fill="#9999ff"/>
<rect x="1825.86" y="475.74" width="36.27" height="36.26" fill="#ff9999"/>
<rect x="1173" y="512" width="36.27" height="36.26" fill="#ffb2b2"/>
<rect x="1209.27" y="512" width="36.27" height="36.26" fill="#ccccff"/>
<rect x="1245.54" y="512" width="36.27" height="36.26" fill="#4c4cff"/>
<rect x="1281.81" y="512" width="36.27" height="36.26" fill="#0000ff"/>
<rect x="1318.08" y="512" width="36.27" height="36.26" fill="#3333ff"/>
<rect x="1354.35" y="512" width="36.27" height="36.26" fill="#4c4cff"/>
<rect x="1390.62" y="512" width="36.27" height="36.26" fill="#6666ff"/>
<rect x="1426.89" y="512" width="36.27" height="36.26" fill="#e6e6ff"/>
<rect x="1463.16" y="512" width="72.54" height="36.26" fill="#3333ff"/>
<rect x="1535.7" y="512" width="36.27" height="36.26" fill="#ffb2b2"/>
<rect x="1571.97" y="512" width="36.27" height="36.26" fill="#ff9999"/>
<rect x="1608.24" y="512" width="36.27" height="36.26" fill="#ffcccc"/>
<rect x="1644.51" y="512" width="36.27" height="36.26" fill="#ff0000"/>
<rect x="1680.78" y="512" width="36.27" height="36.26" fill="#ffb2b2"/>
<rect x="1717.05" y="512" width="36.27" height="36.26" fill="#ffffff"/>
<rect x="1753.32" y="512" width="36.27" height="36.26" fill="#6666ff"/>
<rect x="1789.59" y="512" width="36.27" height="36.26" fill="#9999ff"/>
<rect x="1825.86" y="512" width="36.27" height="36.26" fill="#ff9999"/>
<rect x="1173" y="548.26" width="36.27" height="36.26" fill="#b2b2ff"/>
<rect x="1209.27" y="548.26" width="36.27" height="36.26" fill="#8080ff"/>
<rect x="1245.54" y="548.26" width="72.54" height="36.26" fill="#1a1aff"/>
<rect x="1318.08" y="548.26" width="72.54" height="36.26" fill="#3333ff"/>
<rect x="1390.62" y="548.26" width="36.27" height="36.26" fill="#0000ff"/>
<rect x="1426.89" y="548.26" width="36.27" height="36.26" fill="#6666ff"/>
<rect x="1463.16" y="548.26" width="72.54" height="36.26" fill="#3333ff"/>
<rect x="1535.7" y="548.26" width="36.27" height="36.26" fill="#ff3333"/>
<rect x="1571.97" y="548.26" width="36.27" height="36.26" fill="#ff0000"/>
<rect x="1608.24" y="548.26" width="36.27" height="36.26" fill="#ff3333"/>
<rect x="1644.51" y="548.26" width="36.27" height="36.26" fill="#ff0000"/>
<rect x="1680.78" y="548.26" width="36.27" height="36.26" fill="#ff1a1a"/>
<rect x="1717.05" y="548.26" width="36.27" height="36.26" fill="#ff3333"/>
<rect x="1753.32" y="548.26" width="72.54" height="36.26" fill="#ff6666"/>
<rect x="1825.86" y="548.26" width="36.27" height="36.26" fill="#ff1a1a"/>
<rect x="1173" y="584.52" width="36.27" height="36.26" fill="#b2b2ff"/>
<rect x="1209.27" y="584.52" width="36.27" height="36.26" fill="#8080ff"/>
<rect x="1245.54" y="584.52" width="36.27" height="36.26" fill="#3333ff"/>
<rect x="1281.81" y="584.52" width="36.27" height="36.26" fill="#0000ff"/>
<rect x="1318.08" y="584.52" width="36.27" height="36.26" fill="#3333ff"/>
<rect x="1354.35" y="584.52" width="36.27" height="36.26" fill="#1a1aff"/>
<rect x="1390.62" y="584.52" width="36.27" height="36.26" fill="#0000ff"/>
<rect x="1426.89" y="584.52" width="36.27" height="36.26" fill="#8080ff"/>
<rect x="1463.16" y="584.52" width="36.27" height="36.26" fill="#4c4cff"/>
<rect x="1499.43" y="584.52" width="36.27" height="36.26" fill="#1a1aff"/>
<rect x="1535.7" y="584.52" width="36.27" height="36.26" fill="#ff8080"/>
<rect x="1571.97" y="584.52" width="72.54" height="36.26" fill="#ff3333"/>
<rect x="1644.51" y="584.52" width="36.27" height="36.26" fill="#ff1a1a"/>
<rect x="1680.78" y="584.52" width="36.27" height="36.26" fill="#ff4c4c"/>
<rect x="1717.05" y="584.52" width="36.27" height="36.26" fill="#ff0000"/>
<rect x="1753.32" y="584.52" width="36.27" height="36.26" fill="#ff1a1a"/>
<rect x="1789.59" y="584.52" width="36.27" height="36.26" fill="#ff4c4c"/>
<rect x="1825.86" y="584.52" width="36.27" height="36.26" fill="#ff1a1a"/>
<rect x="1173" y="620.78" width="36.27" height="36.26" fill="#ccccff"/>
<rect x="1209.27" y="620.78" width="72.54" height="36.26" fill="#6666ff"/>
<rect x="1281.81" y="620.78" width="36.27" height="36.26" fill="#1a1aff"/>
<rect x="1318.08" y="620.78" width="36.27" height="36.26" fill="#b2b2ff"/>
<rect x="1354.35" y="620.78" width="36.27" height="36.26" fill="#1a1aff"/>
<rect x="1390.62" y="620.78" width="36.27" height="36.26" fill="#0000ff"/>
<rect x="1426.89" y="620.78" width="36.27" height="36.26" fill="#b2b2ff"/>
<rect x="1463.16" y="620.78" width="72.54" height="36.26" fill="#9999ff"/>
<rect x="1535.7" y="620.78" width="36.27" height="36.26" fill="#ffcccc"/>
<rect x="1571.97" y="620.78" width="36.27" height="36.26" fill="#ff8080"/>
<rect x="1608.24" y="620.78" width="36.27" height="36.26" fill="#ff0000"/>
<rect x="1644.51" y="620.78" width="36.27" height="36.26" fill="#ffb2b2"/>
<rect x="1680.78" y="620.78" width="36.27" height="36.26" fill="#ff8080"/>
<rect x="1717.05" y="620.78" width="36.27" height="36.26" fill="#ffcccc"/>
<rect x="1753.32" y="620.78" width="36.27" height="36.26" fill="#ffe6e6"/>
<rect x="1789.59" y="620.78" width="36.27" height="36.26" fill="#ffb2b2"/>
<rect x="1825.86" y="620.78" width="36.27" height="36.26" fill="#ff1a1a"/>
<rect x="1173" y="657.04" width="36.27" height="36.26" fill="#ff0000"/>
<rect x="1209.27" y="657.04" width="36.27" height="36.26" fill="#ff8080"/>
<rect x="1245.54" y="657.04" width="36.27" height="36.26" fill="#e6e6ff"/>
<rect x="1281.81" y="657.04" width="36.27" height="36.26" fill="#0000ff"/>
<rect x="1318.08" y="657.04" width="36.27" height="36.26" fill="#ffe6e6"/>
<rect x="1354.35" y="657.04" width="36.27" height="36.26" fill="#9999ff"/>
<rect x="1390.62" y="657.04" width="36.27" height="36.26" fill="#3333ff"/>
<rect x="1426.89" y="657.04" width="36.27" height="36.26" fill="#ff4c4c"/>
<rect x="1463.16" y="657.04" width="36.27" height="36.26" fill="#e6e6ff"/>
<rect x="1499.43" y="657.04" width="36.27" height="36.26" fill="#ccccff"/>
<rect x="1535.7" y="657.04" width="36.27" height="36.26" fill="#ffb2b2"/>
<rect x="1571.97" y="657.04" width="36.27" height="36.26" fill="#ff9999"/>
<rect x="1608.24" y="657.04" width="36.27" height="36.26" fill="#ffffff"/>
<rect x="1644.51" y="657.04" width="36.27" height="36.26" fill="#ffb2b2"/>
<rect x="1680.78" y="657.04" width="36.27" height="36.26" fill="#ffe6e6"/>
<rect x="1717.05" y="657.04" width="36.27" height="36.26" fill="#ffcccc"/>
<rect x="1753.32" y="657.04" width="36.27" height="36.26" fill="#ffffff"/>
<rect x="1789.59" y="657.04" width="36.27" height="36.26" fill="#8080ff"/>
<rect x="1825.86" y="657.04" width="36.27" height="36.26" fill="#ffffff"/>
<rect x="1173" y="693.3" width="36.27" height="36.26" fill="#ff4c4c"/>
<rect x="1209.27" y="693.3" width="36.27" height="36.26" fill="#ff9999"/>
<rect x="1245.54" y="693.3" width="72.54" height="36.26" fill="#0000ff"/>
<rect x="1318.08" y="693.3" width="36.27" height="36.26" fill="#ffcccc"/>
<rect x="1354.35" y="693.3" width="36.27" height="36.26" fill="#6666ff"/>
<rect x="1390.62" y="693.3" width="36.27" height="36.26" fill="#e6e6ff"/>
<rect x="1426.89" y="693.3" width="36.27" height="36.26" fill="#ff0000"/>
<rect x="1463.16" y="693.3" width="36.27" height="36.26" fill="#0000ff"/>
<rect x="1499.43" y="693.3" width="36.27" height="36.26" fill="#9999ff"/>
<rect x="1535.7" y="693.3" width="36.27" height="36.26" fill="#e6e6ff"/>
<rect x="1571.97" y="693.3" width="36.27" height="36.26" fill="#9999ff"/>
<rect x="1608.24" y="693.3" width="36.27" height="36.26" fill="#ccccff"/>
<rect x="1644.51" y="693.3" width="36.27" height="36.26" fill="#ffffff"/>
<rect x="1680.78" y="693.3" width="72.54" height="36.26" fill="#8080ff"/>
<rect x="1753.32" y="693.3" width="36.27" height="36.26" fill="#9999ff"/>
<rect x="1789.59" y="693.3" width="72.54" height="36.26" fill="#4c4cff"/>
<rect x="1173" y="729.56" width="36.27" height="36.26" fill="#b2b2ff"/>
<rect x="1209.27" y="729.56" width="36.27" height="36.26" fill="#8080ff"/>
<rect x="1245.54" y="729.56" width="36.27" height="36.26" fill="#6666ff"/>
<rect x="1281.81" y="729.56" width="36.27" height="36.26" fill="#1a1aff"/>
<rect x="1318.08" y="729.56" width="36.27" height="36.26" fill="#8080ff"/>
<rect x="1354.35" y="729.56" width="36.27" height="36.26" fill="#4c4cff"/>
<rect x="1390.62" y="729.56" width="36.27" height="36.26" fill="#3333ff"/>
<rect x="1426.89" y="729.56" width="36.27" height="36.26" fill="#9999ff"/>
<rect x="1463.16" y="729.56" width="72.54" height="36.26" fill="#8080ff"/>
<rect x="1535.7" y="729.56" width="36.27" height="36.26" fill="#ff8080"/>
<rect x="1571.97" y="729.56" width="36.27" height="36.26" fill="#ff6666"/>
<rect x="1608.24" y="729.56" width="36.27" height="36.26" fill="#ff0000"/>
<rect x="1644.51" y="729.56" width="36.27" height="36.26" fill="#ff8080"/>
<rect x="1680.78" y="729.56" width="36.27" height="36.26" fill="#ff4c4c"/>
<rect x="1717.05" y="729.56" width="36.27" height="36.26" fill="#1a1aff"/>
<rect x="1753.32" y="729.56" width="36.27" height="36.26" fill="#0000ff"/>
<rect x="1789.59" y="729.56" width="36.27" height="36.26" fill="#1a1aff"/>
<rect x="1825.86" y="729.56" width="36.27" height="36.26" fill="#4c4cff"/>
<rect x="1173" y="765.82" width="36.27" height="36.26" fill="#6666ff"/>
<rect x="1209.27" y="765.82" width="36.27" height="36.26" fill="#3333ff"/>
<rect x="1245.54" y="765.82" width="36.27" height="36.26" fill="#4c4cff"/>
<rect x="1281.81" y="765.82" width="36.27" height="36.26" fill="#0000ff"/>
<rect x="1318.08" y="765.82" width="36.27" height="36.26" fill="#6666ff"/>
<rect x="1354.35" y="765.82" width="36.27" height="36.26" fill="#3333ff"/>
<rect x="1390.62" y="765.82" width="36.27" height="36.26" fill="#0000ff"/>
<rect x="1426.89" y="765.82" width="36.27" height="36.26" fill="#6666ff"/>
<rect x="1463.16" y="765.82" width="72.54" height="36.26" fill="#4c4cff"/>
<rect x="1535.7" y="765.82" width="36.27" height="36.26" fill="#ff4c4c"/>
<rect x="1571.97" y="765.82" width="72.54" height="36.26" fill="#ff0000"/>
<rect x="1644.51" y="765.82" width="36.27" height="36.26" fill="#ff1a1a"/>
<rect x="1680.78" y="765.82" width="36.27" height="36.26" fill="#ff3333"/>
<rect x="1717.05" y="765.82" width="36.27" height="36.26" fill="#ff8080"/>
<rect x="1753.32" y="765.82" width="36.27" height="36.26" fill="#ff6666"/>
<rect x="1789.59" y="765.82" width="36.27" height="36.26" fill="#ff9999"/>
<rect x="1825.86" y="765.82" width="36.27" height="36.26" fill="#ff1a1a"/>
<rect x="1173" y="802.08" width="36.27" height="36.26" fill="#6666ff"/>
<rect x="1209.27" y="802.08" width="36.27" height="36.26" fill="#4c4cff"/>
<rect x="1245.54" y="802.08" width="36.27" height="36.26" fill="#6666ff"/>
<rect x="1281.81" y="802.08" width="36.27" height="36.26" fill="#0000ff"/>
<rect x="1318.08" y="802.08" width="36.27" height="36.26" fill="#ccccff"/>
<rect x="1354.35" y="802.08" width="36.27" height="36.26" fill="#6666ff"/>
<rect x="1390.62" y="802.08" width="36.27" height="36.26" fill="#1a1aff"/>
<rect x="1426.89" y="802.08" width="36.27" height="36.26" fill="#8080ff"/>
<rect x="1463.16" y="802.08" width="36.27" height="36.26" fill="#9999ff"/>
<rect x="1499.43" y="802.08" width="36.27" height="36.26" fill="#6666ff"/>
<rect x="1535.7" y="802.08" width="36.27" height="36.26" fill="#ff4c4c"/>
<rect x="1571.97" y="802.08" width="72.54" height="36.26" fill="#ff1a1a"/>
<rect x="1644.51" y="802.08" width="72.54" height="36.26" fill="#ff8080"/>
<rect x="1717.05" y="802.08" width="36.27" height="36.26" fill="#ff3333"/>
<rect x="1753.32" y="802.08" width="36.27" height="36.26" fill="#ff0000"/>
<rect x="1789.59" y="802.08" width="36.27" height="36.26" fill="#ff8080"/>
<rect x="1825.86" y="802.08" width="36.27" height="36.26" fill="#ff3333"/>
</g>
<path class="gr" stroke-width="2.1" d="M1173 329.65V839.39M1209.27 329.65V839.39M1245.54 329.65V839.39M1281.81 329.65V839.39M1318.08 329.65V839.39M1354.35 329.65V839.39M1390.62 329.65V839.39M1426.89 329.65V839.39M1463.16 329.65V839.39M1499.43 329.65V839.39M1535.7 329.65V839.39M1571.97 329.65V839.39M1608.24 329.65V839.39M1644.51 329.65V839.39M1680.78 329.65V839.39M1717.05 329.65V839.39M1753.32 329.65V839.39M1789.59 329.65V839.39M1825.86 329.65V839.39M1862.13 329.65V839.39M1171.95 330.7H1863.18M1171.95 366.96H1863.18M1171.95 403.22H1863.18M1171.95 439.48H1863.18M1171.95 475.74H1863.18M1171.95 512H1863.18M1171.95 548.26H1863.18M1171.95 584.52H1863.18M1171.95 620.78H1863.18M1171.95 657.04H1863.18M1171.95 693.3H1863.18M1171.95 729.56H1863.18M1171.95 765.82H1863.18M1171.95 802.08H1863.18M1171.95 838.34H1863.18"/>
<text class="bc" transform="translate(1206.13 312) rotate(-90)">WT-CD</text>
<text class="bc" transform="translate(1242.4 312) rotate(-90)">WT-CD</text>
<text class="bc" transform="translate(1278.67 312) rotate(-90)">WT-CD</text>
<text class="bc" transform="translate(1314.94 312) rotate(-90)">WT-CD</text>
<text class="bc" transform="translate(1351.21 312) rotate(-90)">WT-CD</text>
<text class="bc" transform="translate(1387.49 312) rotate(-90)">LAKO-CD</text>
<text class="bc" transform="translate(1423.76 312) rotate(-90)">LAKO-CD</text>
<text class="bc" transform="translate(1460.03 312) rotate(-90)">LAKO-CD</text>
<text class="bc" transform="translate(1496.3 312) rotate(-90)">LAKO-CD</text>
<text class="bc" transform="translate(1532.57 312) rotate(-90)">LAKO-CD</text>
<text class="bc" transform="translate(1568.84 312) rotate(-90)">WT-HFrD</text>
<text class="bc" transform="translate(1605.11 312) rotate(-90)">WT-HFrD</text>
<text class="bc" transform="translate(1641.38 312) rotate(-90)">WT-HFrD</text>
<text class="bc" transform="translate(1677.64 312) rotate(-90)">WT-HFrD</text>
<text class="bc" transform="translate(1713.91 312) rotate(-90)">WT-HFrD</text>
<text class="bc" transform="translate(1750.18 312) rotate(-90)">LAKO-HFrD</text>
<text class="bc" transform="translate(1786.45 312) rotate(-90)">LAKO-HFrD</text>
<text class="bc" transform="translate(1822.72 312) rotate(-90)">LAKO-HFrD</text>
<text class="bc" transform="translate(1858.99 312) rotate(-90)">LAKO-HFrD</text>
<text class="br" x="1879.8" y="365.03">48:0</text>
<text class="br" x="1879.8" y="401.29">48:1</text>
<text class="br" x="1879.8" y="437.55">48:2</text>
<text class="br" x="1879.8" y="473.81">48:3</text>
<text class="br" x="1879.8" y="510.07">50:0</text>
<text class="br" x="1879.8" y="546.33">50:1</text>
<text class="br" x="1879.8" y="582.59">50:2</text>
<text class="br" x="1879.8" y="618.85">50:3</text>
<text class="br" x="1879.8" y="655.11">52:1</text>
<text class="br" x="1879.8" y="691.37">52:2</text>
<text class="br" x="1879.8" y="727.63">52:3</text>
<text class="br" x="1879.8" y="763.89">54:1</text>
<text class="br" x="1879.8" y="800.15">54:2</text>
<text class="br" x="1879.8" y="836.41">54:3</text>
<rect x="1293.9" y="867.5" width="452.4" height="26" fill="url(#gh)" stroke="#000" stroke-width="1.4"/>
<text class="lg" x="1291.7" y="943.7">row min</text>
<text class="lg" x="1653.1" y="941.2">row max</text>
<g id="pca">
<path class="gd" d="M1235.9 1047.9V1957M1363.4 1047.9V1957M1490.9 1047.9V1957M1618.4 1047.9V1957M1745.9 1047.9V1957M1873.4 1047.9V1957M2000.9 1047.9V1957M1113 1122.5H2022.3M1113 1334.15H2022.3M1113 1545.8H2022.3M1113 1757.45H2022.3"/>
<ellipse cx="1257.2" cy="1565" rx="34.6" ry="201" transform="rotate(0 1257.2 1565)" fill="#ff0000" fill-opacity="0.2"/>
<ellipse cx="1266.9" cy="1546.2" rx="33" ry="143.3" transform="rotate(21.4 1266.9 1546.2)" fill="#000000" fill-opacity="0.23"/>
<ellipse cx="1711.6" cy="1288.7" rx="104.3" ry="147.3" transform="rotate(-2 1711.6 1288.7)" fill="#ff00ff" fill-opacity="0.2"/>
<ellipse cx="1775.3" cy="1733.6" rx="197.4" ry="47" transform="rotate(-39.7 1775.3 1733.6)" fill="#0000ff" fill-opacity="0.2"/>
<circle cx="1269.7" cy="1491.9" r="9.9" fill="#ed414b" fill-opacity="0.85" stroke="#000" stroke-opacity="0.8" stroke-width="1.9"/>
<circle cx="1257.8" cy="1501.9" r="9.9" fill="#ed414b" fill-opacity="0.85" stroke="#000" stroke-opacity="0.8" stroke-width="1.9"/>
<circle cx="1247.3" cy="1534" r="9.9" fill="#ed414b" fill-opacity="0.85" stroke="#000" stroke-opacity="0.8" stroke-width="1.9"/>
<circle cx="1236.9" cy="1613.1" r="9.9" fill="#ed414b" fill-opacity="0.85" stroke="#000" stroke-opacity="0.8" stroke-width="1.9"/>
<circle cx="1270.4" cy="1684.8" r="9.9" fill="#ed414b" fill-opacity="0.85" stroke="#000" stroke-opacity="0.8" stroke-width="1.9"/>
<circle cx="1293.2" cy="1456.8" r="9.9" fill="#696469" fill-opacity="0.85" stroke="#000" stroke-opacity="0.8" stroke-width="1.9"/>
<circle cx="1295.8" cy="1537.4" r="9.9" fill="#696469" fill-opacity="0.85" stroke="#000" stroke-opacity="0.8" stroke-width="1.9"/>
<circle cx="1249.6" cy="1561.6" r="9.9" fill="#696469" fill-opacity="0.85" stroke="#000" stroke-opacity="0.8" stroke-width="1.9"/>
<circle cx="1247.7" cy="1583.7" r="9.9" fill="#696469" fill-opacity="0.85" stroke="#000" stroke-opacity="0.8" stroke-width="1.9"/>
<circle cx="1249.9" cy="1595.6" r="9.9" fill="#696469" fill-opacity="0.85" stroke="#000" stroke-opacity="0.8" stroke-width="1.9"/>
<circle cx="1734.5" cy="1210.1" r="9.9" fill="#be6fc4" fill-opacity="0.85" stroke="#000" stroke-opacity="0.8" stroke-width="1.9"/>
<circle cx="1696.5" cy="1282.2" r="9.9" fill="#be6fc4" fill-opacity="0.85" stroke="#000" stroke-opacity="0.8" stroke-width="1.9"/>
<circle cx="1659.1" cy="1308.5" r="9.9" fill="#be6fc4" fill-opacity="0.85" stroke="#000" stroke-opacity="0.8" stroke-width="1.9"/>
<circle cx="1755.2" cy="1353.7" r="9.9" fill="#be6fc4" fill-opacity="0.85" stroke="#000" stroke-opacity="0.8" stroke-width="1.9"/>
<circle cx="1868.7" cy="1664.6" r="9.9" fill="#6767f7" fill-opacity="0.85" stroke="#000" stroke-opacity="0.8" stroke-width="1.9"/>
<circle cx="1746.7" cy="1716.1" r="9.9" fill="#6767f7" fill-opacity="0.85" stroke="#000" stroke-opacity="0.8" stroke-width="1.9"/>
<circle cx="1809.7" cy="1720.2" r="9.9" fill="#6767f7" fill-opacity="0.85" stroke="#000" stroke-opacity="0.8" stroke-width="1.9"/>
<circle cx="1739.2" cy="1757.2" r="9.9" fill="#6767f7" fill-opacity="0.85" stroke="#000" stroke-opacity="0.8" stroke-width="1.9"/>
<circle cx="1711.6" cy="1808.3" r="9.9" fill="#6767f7" fill-opacity="0.85" stroke="#000" stroke-opacity="0.8" stroke-width="1.9"/>
<rect x="1113" y="1047.9" width="909.3" height="909.1" fill="none" stroke="#000" stroke-width="1.7"/>
<path d="M1235.9 1957v13.5M1363.4 1957v13.5M1490.9 1957v13.5M1618.4 1957v13.5M1745.9 1957v13.5M1873.4 1957v13.5M2000.9 1957v13.5M1113 1122.5h-13.5M1113 1334.15h-13.5M1113 1545.8h-13.5M1113 1757.45h-13.5" stroke="#000" stroke-width="1.7" fill="none"/>
<text class="ct" text-anchor="middle" x="1235.9" y="2007.2">-10</text>
<text class="ct" text-anchor="middle" x="1363.4" y="2007.2">-5</text>
<text class="ct" text-anchor="middle" x="1490.9" y="2007.2">0</text>
<text class="ct" text-anchor="middle" x="1618.4" y="2007.2">5</text>
<text class="ct" text-anchor="middle" x="1745.9" y="2007.2">10</text>
<text class="ct" text-anchor="middle" x="1873.4" y="2007.2">15</text>
<text class="ct" text-anchor="middle" x="2000.9" y="2007.2">20</text>
<text class="ct" text-anchor="middle" transform="translate(1089.5 1122.5) rotate(-90)">10</text>
<text class="ct" text-anchor="middle" transform="translate(1089.5 1334.15) rotate(-90)">5</text>
<text class="ct" text-anchor="middle" transform="translate(1089.5 1545.8) rotate(-90)">0</text>
<text class="ct" text-anchor="middle" transform="translate(1089.5 1757.45) rotate(-90)">-5</text>
<text class="cl" text-anchor="middle" x="1567.6" y="2056.6">PC 1 ( 82.2 %)</text>
<text class="cl" text-anchor="middle" transform="translate(1040.2 1502.3) rotate(-90)">PC 2 ( 13.1 %)</text>
<rect x="1113.3" y="1048.3" width="280.7" height="261.7" fill="#fff" stroke="#000" stroke-width="2.9"/>
<circle cx="1152.5" cy="1101.4" r="13.4" fill="#f00"/>
<text class="cg" x="1172.6" y="1111.3">LAKO-CD</text>
<circle cx="1152.5" cy="1153.5" r="13.4" fill="#000"/>
<text class="cg" x="1174.8" y="1163.4">WT-CD</text>
<circle cx="1152.5" cy="1205.6" r="13.4" fill="#f0f"/>
<text class="cg" x="1172.6" y="1215.5">LAKO-HFrD</text>
<circle cx="1152.5" cy="1257.7" r="13.4" fill="#00f"/>
<text class="cg" x="1174.8" y="1267.6">WT-HFrD</text>
</g>
</svg>
</body></html>
